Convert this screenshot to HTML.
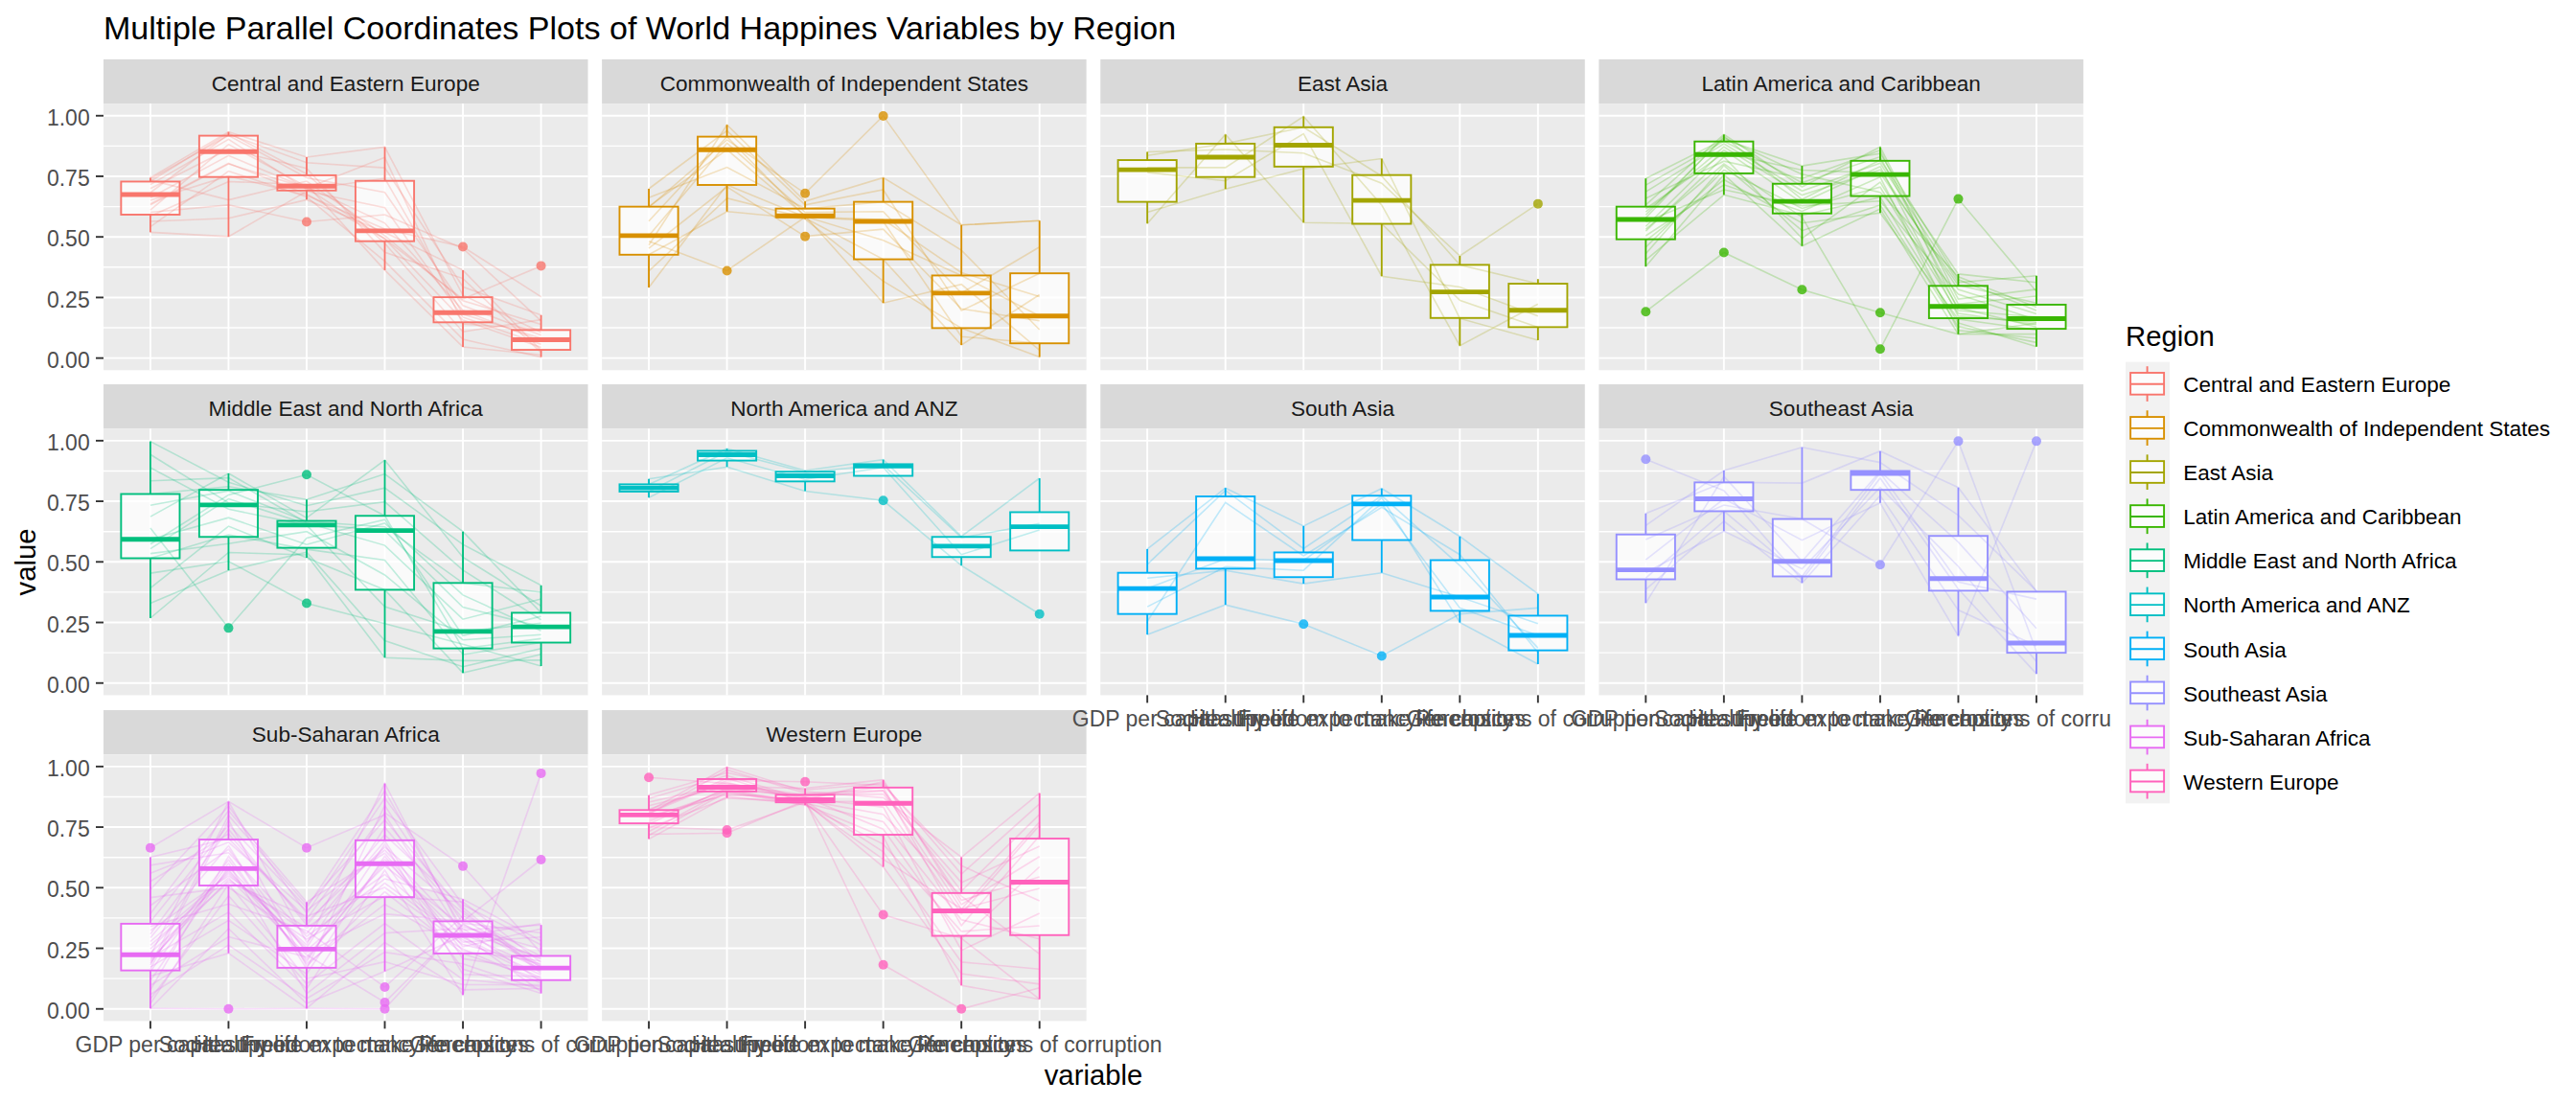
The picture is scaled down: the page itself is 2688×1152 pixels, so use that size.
<!DOCTYPE html><html><head><meta charset="utf-8"><style>html,body{margin:0;padding:0;background:#fff;width:2688px;height:1152px;overflow:hidden}</style></head><body><svg width="2688" height="1152" viewBox="0 0 2688 1152" style="display:block">
<rect x="0" y="0" width="2688" height="1152" fill="#FFFFFF"/>
<text x="108" y="41" font-family='"Liberation Sans", sans-serif' font-size="34.05" fill="#000000">Multiple Parallel Coordinates Plots of World Happines Variables by Region</text>
<defs><clipPath id="cpx"><rect x="0" y="0" width="2204" height="1152"/></clipPath></defs>
<rect x="108.00" y="61.90" width="505.5" height="46.2" fill="#D9D9D9"/>
<text x="360.75" y="95.10" text-anchor="middle" font-family='"Liberation Sans", sans-serif' font-size="22.6" fill="#1A1A1A">Central and Eastern Europe</text>
<rect x="108.00" y="108.10" width="505.5" height="278.2" fill="#EBEBEB"/>
<line x1="108.00" x2="613.50" y1="342.04" y2="342.04" stroke="#FFFFFF" stroke-width="1.4"/>
<line x1="108.00" x2="613.50" y1="278.81" y2="278.81" stroke="#FFFFFF" stroke-width="1.4"/>
<line x1="108.00" x2="613.50" y1="215.59" y2="215.59" stroke="#FFFFFF" stroke-width="1.4"/>
<line x1="108.00" x2="613.50" y1="152.36" y2="152.36" stroke="#FFFFFF" stroke-width="1.4"/>
<line x1="108.00" x2="613.50" y1="373.65" y2="373.65" stroke="#FFFFFF" stroke-width="1.9"/>
<line x1="108.00" x2="613.50" y1="310.43" y2="310.43" stroke="#FFFFFF" stroke-width="1.9"/>
<line x1="108.00" x2="613.50" y1="247.20" y2="247.20" stroke="#FFFFFF" stroke-width="1.9"/>
<line x1="108.00" x2="613.50" y1="183.97" y2="183.97" stroke="#FFFFFF" stroke-width="1.9"/>
<line x1="108.00" x2="613.50" y1="120.75" y2="120.75" stroke="#FFFFFF" stroke-width="1.9"/>
<line x1="156.92" x2="156.92" y1="108.10" y2="386.30" stroke="#FFFFFF" stroke-width="1.9"/>
<line x1="238.45" x2="238.45" y1="108.10" y2="386.30" stroke="#FFFFFF" stroke-width="1.9"/>
<line x1="319.98" x2="319.98" y1="108.10" y2="386.30" stroke="#FFFFFF" stroke-width="1.9"/>
<line x1="401.52" x2="401.52" y1="108.10" y2="386.30" stroke="#FFFFFF" stroke-width="1.9"/>
<line x1="483.05" x2="483.05" y1="108.10" y2="386.30" stroke="#FFFFFF" stroke-width="1.9"/>
<line x1="564.58" x2="564.58" y1="108.10" y2="386.30" stroke="#FFFFFF" stroke-width="1.9"/>
<rect x="126.34" y="189.46" width="61.15" height="34.51" fill="#FFFFFF" fill-opacity="0.75"/>
<rect x="207.88" y="141.60" width="61.15" height="43.08" fill="#FFFFFF" fill-opacity="0.75"/>
<rect x="289.41" y="182.91" width="61.15" height="15.87" fill="#FFFFFF" fill-opacity="0.75"/>
<rect x="370.94" y="188.71" width="61.15" height="62.98" fill="#FFFFFF" fill-opacity="0.75"/>
<rect x="452.47" y="310.12" width="61.15" height="26.20" fill="#FFFFFF" fill-opacity="0.75"/>
<rect x="534.01" y="344.38" width="61.15" height="20.66" fill="#FFFFFF" fill-opacity="0.75"/>
<polyline points="156.9,187.9 238.5,208.6 320.0,189.0 401.5,245.9 483.0,313.8 564.6,338.4" fill="none" stroke="#F8766D" stroke-opacity="0.24" stroke-width="1.6"/>
<polyline points="156.9,212.7 238.5,170.4 320.0,202.5 401.5,249.2 483.0,334.0 564.6,362.6" fill="none" stroke="#F8766D" stroke-opacity="0.24" stroke-width="1.6"/>
<polyline points="156.9,201.0 238.5,140.1 320.0,169.8 401.5,175.1 483.0,299.3 564.6,328.8" fill="none" stroke="#F8766D" stroke-opacity="0.24" stroke-width="1.6"/>
<polyline points="156.9,242.4 238.5,246.9 320.0,199.5 401.5,216.8 483.0,330.9 564.6,359.3" fill="none" stroke="#F8766D" stroke-opacity="0.24" stroke-width="1.6"/>
<polyline points="156.9,189.2 238.5,138.8 320.0,181.5 401.5,254.0 483.0,346.2 564.6,333.6" fill="none" stroke="#F8766D" stroke-opacity="0.24" stroke-width="1.6"/>
<polyline points="156.9,206.3 238.5,162.3 320.0,196.3 401.5,164.3 483.0,338.3 564.6,343.2" fill="none" stroke="#F8766D" stroke-opacity="0.24" stroke-width="1.6"/>
<polyline points="156.9,236.7 238.5,178.6 320.0,205.4 401.5,272.6 483.0,354.1 564.6,372.6" fill="none" stroke="#F8766D" stroke-opacity="0.24" stroke-width="1.6"/>
<polyline points="156.9,186.7 238.5,141.3 320.0,185.5 401.5,200.7 483.0,318.8 564.6,349.8" fill="none" stroke="#F8766D" stroke-opacity="0.24" stroke-width="1.6"/>
<polyline points="156.9,225.4 238.5,189.5 320.0,192.5 401.5,281.9 483.0,362.0 564.6,370.3" fill="none" stroke="#F8766D" stroke-opacity="0.24" stroke-width="1.6"/>
<polyline points="156.9,192.6 238.5,145.4 320.0,197.7 401.5,186.0 483.0,327.8 564.6,352.9" fill="none" stroke="#F8766D" stroke-opacity="0.24" stroke-width="1.6"/>
<polyline points="156.9,231.0 238.5,227.8 320.0,208.4 401.5,242.5 483.0,281.9 564.6,365.6" fill="none" stroke="#F8766D" stroke-opacity="0.24" stroke-width="1.6"/>
<polyline points="156.9,219.1 238.5,150.6 320.0,194.9 401.5,232.8 483.0,323.8 564.6,356.1" fill="none" stroke="#F8766D" stroke-opacity="0.24" stroke-width="1.6"/>
<polyline points="156.9,196.8 238.5,155.7 320.0,175.6 401.5,263.3 483.0,290.6 564.6,367.9" fill="none" stroke="#F8766D" stroke-opacity="0.24" stroke-width="1.6"/>
<polyline points="156.9,185.4 238.5,137.6 320.0,164.0 401.5,153.4 483.0,308.0 564.6,346.7" fill="none" stroke="#F8766D" stroke-opacity="0.24" stroke-width="1.6"/>
<polyline points="156.9,221.5 238.5,213.9 320.0,231.5 401.5,224.0 483.0,259.2 564.6,334.8" fill="none" stroke="#F8766D" stroke-opacity="0.24" stroke-width="1.6"/>
<polyline points="156.9,208.9 238.5,183.7 320.0,203.8 401.5,239.1 483.0,257.5 564.6,309.6" fill="none" stroke="#F8766D" stroke-opacity="0.24" stroke-width="1.6"/>
<polyline points="156.9,213.9 238.5,171.1 320.0,196.3 401.5,249.2 483.0,312.1 564.6,277.4" fill="none" stroke="#F8766D" stroke-opacity="0.24" stroke-width="1.6"/>
<line x1="156.92" x2="156.92" y1="185.43" y2="189.46" stroke="#F8766D" stroke-width="1.9"/>
<line x1="156.92" x2="156.92" y1="223.97" y2="242.36" stroke="#F8766D" stroke-width="1.9"/>
<rect x="126.34" y="189.46" width="61.15" height="34.51" fill="none" stroke="#F8766D" stroke-width="1.9"/>
<line x1="126.34" x2="187.49" y1="203.07" y2="203.07" stroke="#F8766D" stroke-width="4.9"/>
<line x1="238.45" x2="238.45" y1="137.57" y2="141.60" stroke="#F8766D" stroke-width="1.9"/>
<line x1="238.45" x2="238.45" y1="184.68" y2="246.90" stroke="#F8766D" stroke-width="1.9"/>
<rect x="207.88" y="141.60" width="61.15" height="43.08" fill="none" stroke="#F8766D" stroke-width="1.9"/>
<line x1="207.88" x2="269.03" y1="158.23" y2="158.23" stroke="#F8766D" stroke-width="4.9"/>
<line x1="319.98" x2="319.98" y1="164.02" y2="182.91" stroke="#F8766D" stroke-width="1.9"/>
<line x1="319.98" x2="319.98" y1="198.78" y2="208.36" stroke="#F8766D" stroke-width="1.9"/>
<rect x="289.41" y="182.91" width="61.15" height="15.87" fill="none" stroke="#F8766D" stroke-width="1.9"/>
<line x1="289.41" x2="350.56" y1="194.25" y2="194.25" stroke="#F8766D" stroke-width="4.9"/>
<circle cx="319.98" cy="231.53" r="5" fill="#F8766D" fill-opacity="0.8"/>
<line x1="401.52" x2="401.52" y1="153.44" y2="188.71" stroke="#F8766D" stroke-width="1.9"/>
<line x1="401.52" x2="401.52" y1="251.68" y2="281.91" stroke="#F8766D" stroke-width="1.9"/>
<rect x="370.94" y="188.71" width="61.15" height="62.98" fill="none" stroke="#F8766D" stroke-width="1.9"/>
<line x1="370.94" x2="432.09" y1="240.85" y2="240.85" stroke="#F8766D" stroke-width="4.9"/>
<line x1="483.05" x2="483.05" y1="281.91" y2="310.12" stroke="#F8766D" stroke-width="1.9"/>
<line x1="483.05" x2="483.05" y1="336.32" y2="362.02" stroke="#F8766D" stroke-width="1.9"/>
<rect x="452.47" y="310.12" width="61.15" height="26.20" fill="none" stroke="#F8766D" stroke-width="1.9"/>
<line x1="452.47" x2="513.62" y1="326.25" y2="326.25" stroke="#F8766D" stroke-width="4.9"/>
<circle cx="483.05" cy="257.48" r="5" fill="#F8766D" fill-opacity="0.8"/>
<line x1="564.58" x2="564.58" y1="328.77" y2="344.38" stroke="#F8766D" stroke-width="1.9"/>
<line x1="564.58" x2="564.58" y1="365.04" y2="372.60" stroke="#F8766D" stroke-width="1.9"/>
<rect x="534.01" y="344.38" width="61.15" height="20.66" fill="none" stroke="#F8766D" stroke-width="1.9"/>
<line x1="534.01" x2="595.16" y1="354.46" y2="354.46" stroke="#F8766D" stroke-width="4.9"/>
<circle cx="564.58" cy="277.38" r="5" fill="#F8766D" fill-opacity="0.8"/>
<line x1="100.00" x2="108.00" y1="373.65" y2="373.65" stroke="#333333" stroke-width="1.9"/>
<text x="93.70" y="383.75" text-anchor="end" font-family='"Liberation Sans", sans-serif' font-size="23" fill="#4D4D4D">0.00</text>
<line x1="100.00" x2="108.00" y1="310.43" y2="310.43" stroke="#333333" stroke-width="1.9"/>
<text x="93.70" y="320.53" text-anchor="end" font-family='"Liberation Sans", sans-serif' font-size="23" fill="#4D4D4D">0.25</text>
<line x1="100.00" x2="108.00" y1="247.20" y2="247.20" stroke="#333333" stroke-width="1.9"/>
<text x="93.70" y="257.30" text-anchor="end" font-family='"Liberation Sans", sans-serif' font-size="23" fill="#4D4D4D">0.50</text>
<line x1="100.00" x2="108.00" y1="183.97" y2="183.97" stroke="#333333" stroke-width="1.9"/>
<text x="93.70" y="194.07" text-anchor="end" font-family='"Liberation Sans", sans-serif' font-size="23" fill="#4D4D4D">0.75</text>
<line x1="100.00" x2="108.00" y1="120.75" y2="120.75" stroke="#333333" stroke-width="1.9"/>
<text x="93.70" y="130.85" text-anchor="end" font-family='"Liberation Sans", sans-serif' font-size="23" fill="#4D4D4D">1.00</text>
<rect x="628.13" y="61.90" width="505.5" height="46.2" fill="#D9D9D9"/>
<text x="880.88" y="95.10" text-anchor="middle" font-family='"Liberation Sans", sans-serif' font-size="22.6" fill="#1A1A1A">Commonwealth of Independent States</text>
<rect x="628.13" y="108.10" width="505.5" height="278.2" fill="#EBEBEB"/>
<line x1="628.13" x2="1133.63" y1="342.04" y2="342.04" stroke="#FFFFFF" stroke-width="1.4"/>
<line x1="628.13" x2="1133.63" y1="278.81" y2="278.81" stroke="#FFFFFF" stroke-width="1.4"/>
<line x1="628.13" x2="1133.63" y1="215.59" y2="215.59" stroke="#FFFFFF" stroke-width="1.4"/>
<line x1="628.13" x2="1133.63" y1="152.36" y2="152.36" stroke="#FFFFFF" stroke-width="1.4"/>
<line x1="628.13" x2="1133.63" y1="373.65" y2="373.65" stroke="#FFFFFF" stroke-width="1.9"/>
<line x1="628.13" x2="1133.63" y1="310.43" y2="310.43" stroke="#FFFFFF" stroke-width="1.9"/>
<line x1="628.13" x2="1133.63" y1="247.20" y2="247.20" stroke="#FFFFFF" stroke-width="1.9"/>
<line x1="628.13" x2="1133.63" y1="183.97" y2="183.97" stroke="#FFFFFF" stroke-width="1.9"/>
<line x1="628.13" x2="1133.63" y1="120.75" y2="120.75" stroke="#FFFFFF" stroke-width="1.9"/>
<line x1="677.05" x2="677.05" y1="108.10" y2="386.30" stroke="#FFFFFF" stroke-width="1.9"/>
<line x1="758.58" x2="758.58" y1="108.10" y2="386.30" stroke="#FFFFFF" stroke-width="1.9"/>
<line x1="840.11" x2="840.11" y1="108.10" y2="386.30" stroke="#FFFFFF" stroke-width="1.9"/>
<line x1="921.65" x2="921.65" y1="108.10" y2="386.30" stroke="#FFFFFF" stroke-width="1.9"/>
<line x1="1003.18" x2="1003.18" y1="108.10" y2="386.30" stroke="#FFFFFF" stroke-width="1.9"/>
<line x1="1084.71" x2="1084.71" y1="108.10" y2="386.30" stroke="#FFFFFF" stroke-width="1.9"/>
<rect x="646.47" y="215.66" width="61.15" height="50.13" fill="#FFFFFF" fill-opacity="0.75"/>
<rect x="728.01" y="142.61" width="61.15" height="50.38" fill="#FFFFFF" fill-opacity="0.75"/>
<rect x="809.54" y="217.68" width="61.15" height="8.82" fill="#FFFFFF" fill-opacity="0.75"/>
<rect x="891.07" y="210.62" width="61.15" height="59.95" fill="#FFFFFF" fill-opacity="0.75"/>
<rect x="972.60" y="287.45" width="61.15" height="54.91" fill="#FFFFFF" fill-opacity="0.75"/>
<rect x="1054.14" y="285.19" width="61.15" height="73.05" fill="#FFFFFF" fill-opacity="0.75"/>
<polyline points="677.0,197.0 758.6,136.4 840.1,213.9 921.6,198.0 1003.2,324.1 1084.7,285.2" fill="none" stroke="#D89000" stroke-opacity="0.24" stroke-width="1.6"/>
<polyline points="677.0,245.9 758.6,149.4 840.1,221.5 921.6,220.8 1003.2,305.8 1084.7,257.7" fill="none" stroke="#D89000" stroke-opacity="0.24" stroke-width="1.6"/>
<polyline points="677.0,282.9 758.6,206.8 840.1,227.5 921.6,270.6 1003.2,360.0 1084.7,307.5" fill="none" stroke="#D89000" stroke-opacity="0.24" stroke-width="1.6"/>
<polyline points="677.0,206.3 758.6,174.6 840.1,217.7 921.6,210.6 1003.2,261.1 1084.7,344.0" fill="none" stroke="#D89000" stroke-opacity="0.24" stroke-width="1.6"/>
<polyline points="677.0,215.7 758.6,156.2 840.1,225.2 921.6,316.2 1003.2,296.6 1084.7,365.4" fill="none" stroke="#D89000" stroke-opacity="0.24" stroke-width="1.6"/>
<polyline points="677.0,265.8 758.6,220.7 840.1,228.5 921.6,293.4 1003.2,342.4 1084.7,372.6" fill="none" stroke="#D89000" stroke-opacity="0.24" stroke-width="1.6"/>
<polyline points="677.0,255.8 758.6,130.3 840.1,210.1 921.6,185.4 1003.2,234.8 1084.7,230.3" fill="none" stroke="#D89000" stroke-opacity="0.24" stroke-width="1.6"/>
<polyline points="677.0,300.0 758.6,193.0 840.1,226.5 921.6,231.0 1003.2,351.2 1084.7,358.2" fill="none" stroke="#D89000" stroke-opacity="0.24" stroke-width="1.6"/>
<polyline points="677.0,230.8 758.6,142.6 840.1,225.9 921.6,250.8 1003.2,287.5 1084.7,329.8" fill="none" stroke="#D89000" stroke-opacity="0.24" stroke-width="1.6"/>
<polyline points="677.0,251.7 758.6,282.4 840.1,226.5 921.6,229.0 1003.2,284.4 1084.7,309.6" fill="none" stroke="#D89000" stroke-opacity="0.24" stroke-width="1.6"/>
<polyline points="677.0,216.4 758.6,145.9 840.1,201.8 921.6,120.9 1003.2,234.8 1084.7,230.3" fill="none" stroke="#D89000" stroke-opacity="0.24" stroke-width="1.6"/>
<polyline points="677.0,259.2 758.6,195.0 840.1,246.6 921.6,239.1 1003.2,322.2 1084.7,334.8" fill="none" stroke="#D89000" stroke-opacity="0.24" stroke-width="1.6"/>
<line x1="677.05" x2="677.05" y1="197.02" y2="215.66" stroke="#D89000" stroke-width="1.9"/>
<line x1="677.05" x2="677.05" y1="265.79" y2="300.05" stroke="#D89000" stroke-width="1.9"/>
<rect x="646.47" y="215.66" width="61.15" height="50.13" fill="none" stroke="#D89000" stroke-width="1.9"/>
<line x1="646.47" x2="707.62" y1="245.89" y2="245.89" stroke="#D89000" stroke-width="4.9"/>
<line x1="758.58" x2="758.58" y1="130.27" y2="142.61" stroke="#D89000" stroke-width="1.9"/>
<line x1="758.58" x2="758.58" y1="192.99" y2="220.70" stroke="#D89000" stroke-width="1.9"/>
<rect x="728.01" y="142.61" width="61.15" height="50.38" fill="none" stroke="#D89000" stroke-width="1.9"/>
<line x1="728.01" x2="789.16" y1="156.21" y2="156.21" stroke="#D89000" stroke-width="4.9"/>
<circle cx="758.58" cy="282.42" r="5" fill="#D89000" fill-opacity="0.8"/>
<line x1="840.11" x2="840.11" y1="210.12" y2="217.68" stroke="#D89000" stroke-width="1.9"/>
<line x1="840.11" x2="840.11" y1="226.49" y2="228.51" stroke="#D89000" stroke-width="1.9"/>
<rect x="809.54" y="217.68" width="61.15" height="8.82" fill="none" stroke="#D89000" stroke-width="1.9"/>
<line x1="809.54" x2="870.69" y1="225.23" y2="225.23" stroke="#D89000" stroke-width="4.9"/>
<circle cx="840.11" cy="201.81" r="5" fill="#D89000" fill-opacity="0.8"/>
<circle cx="840.11" cy="246.65" r="5" fill="#D89000" fill-opacity="0.8"/>
<line x1="921.65" x2="921.65" y1="185.43" y2="210.62" stroke="#D89000" stroke-width="1.9"/>
<line x1="921.65" x2="921.65" y1="270.58" y2="316.17" stroke="#D89000" stroke-width="1.9"/>
<rect x="891.07" y="210.62" width="61.15" height="59.95" fill="none" stroke="#D89000" stroke-width="1.9"/>
<line x1="891.07" x2="952.22" y1="231.03" y2="231.03" stroke="#D89000" stroke-width="4.9"/>
<circle cx="921.65" cy="120.95" r="5" fill="#D89000" fill-opacity="0.8"/>
<line x1="1003.18" x2="1003.18" y1="234.81" y2="287.45" stroke="#D89000" stroke-width="1.9"/>
<line x1="1003.18" x2="1003.18" y1="342.37" y2="360.00" stroke="#D89000" stroke-width="1.9"/>
<rect x="972.60" y="287.45" width="61.15" height="54.91" fill="none" stroke="#D89000" stroke-width="1.9"/>
<line x1="972.60" x2="1033.75" y1="305.84" y2="305.84" stroke="#D89000" stroke-width="4.9"/>
<line x1="1084.71" x2="1084.71" y1="230.27" y2="285.19" stroke="#D89000" stroke-width="1.9"/>
<line x1="1084.71" x2="1084.71" y1="358.24" y2="372.60" stroke="#D89000" stroke-width="1.9"/>
<rect x="1054.14" y="285.19" width="61.15" height="73.05" fill="none" stroke="#D89000" stroke-width="1.9"/>
<line x1="1054.14" x2="1115.29" y1="329.77" y2="329.77" stroke="#D89000" stroke-width="4.9"/>
<rect x="1148.26" y="61.90" width="505.5" height="46.2" fill="#D9D9D9"/>
<text x="1401.01" y="95.10" text-anchor="middle" font-family='"Liberation Sans", sans-serif' font-size="22.6" fill="#1A1A1A">East Asia</text>
<rect x="1148.26" y="108.10" width="505.5" height="278.2" fill="#EBEBEB"/>
<line x1="1148.26" x2="1653.76" y1="342.04" y2="342.04" stroke="#FFFFFF" stroke-width="1.4"/>
<line x1="1148.26" x2="1653.76" y1="278.81" y2="278.81" stroke="#FFFFFF" stroke-width="1.4"/>
<line x1="1148.26" x2="1653.76" y1="215.59" y2="215.59" stroke="#FFFFFF" stroke-width="1.4"/>
<line x1="1148.26" x2="1653.76" y1="152.36" y2="152.36" stroke="#FFFFFF" stroke-width="1.4"/>
<line x1="1148.26" x2="1653.76" y1="373.65" y2="373.65" stroke="#FFFFFF" stroke-width="1.9"/>
<line x1="1148.26" x2="1653.76" y1="310.43" y2="310.43" stroke="#FFFFFF" stroke-width="1.9"/>
<line x1="1148.26" x2="1653.76" y1="247.20" y2="247.20" stroke="#FFFFFF" stroke-width="1.9"/>
<line x1="1148.26" x2="1653.76" y1="183.97" y2="183.97" stroke="#FFFFFF" stroke-width="1.9"/>
<line x1="1148.26" x2="1653.76" y1="120.75" y2="120.75" stroke="#FFFFFF" stroke-width="1.9"/>
<line x1="1197.18" x2="1197.18" y1="108.10" y2="386.30" stroke="#FFFFFF" stroke-width="1.9"/>
<line x1="1278.71" x2="1278.71" y1="108.10" y2="386.30" stroke="#FFFFFF" stroke-width="1.9"/>
<line x1="1360.24" x2="1360.24" y1="108.10" y2="386.30" stroke="#FFFFFF" stroke-width="1.9"/>
<line x1="1441.78" x2="1441.78" y1="108.10" y2="386.30" stroke="#FFFFFF" stroke-width="1.9"/>
<line x1="1523.31" x2="1523.31" y1="108.10" y2="386.30" stroke="#FFFFFF" stroke-width="1.9"/>
<line x1="1604.84" x2="1604.84" y1="108.10" y2="386.30" stroke="#FFFFFF" stroke-width="1.9"/>
<rect x="1166.60" y="167.04" width="61.15" height="43.58" fill="#FFFFFF" fill-opacity="0.75"/>
<rect x="1248.14" y="149.92" width="61.15" height="34.76" fill="#FFFFFF" fill-opacity="0.75"/>
<rect x="1329.67" y="132.79" width="61.15" height="41.06" fill="#FFFFFF" fill-opacity="0.75"/>
<rect x="1411.20" y="182.66" width="61.15" height="50.88" fill="#FFFFFF" fill-opacity="0.75"/>
<rect x="1492.73" y="276.37" width="61.15" height="55.42" fill="#FFFFFF" fill-opacity="0.75"/>
<rect x="1574.27" y="296.02" width="61.15" height="45.34" fill="#FFFFFF" fill-opacity="0.75"/>
<polyline points="1197.2,162.3 1278.7,149.9 1360.2,132.8 1441.8,183.7 1523.3,276.4 1604.8,296.0" fill="none" stroke="#A3A500" stroke-opacity="0.24" stroke-width="1.6"/>
<polyline points="1197.2,174.9 1278.7,174.9 1360.2,121.5 1441.8,213.9 1523.3,360.8 1604.8,317.2" fill="none" stroke="#A3A500" stroke-opacity="0.24" stroke-width="1.6"/>
<polyline points="1197.2,179.9 1278.7,188.7 1360.2,139.6 1441.8,288.2 1523.3,299.5 1604.8,329.8" fill="none" stroke="#A3A500" stroke-opacity="0.24" stroke-width="1.6"/>
<polyline points="1197.2,158.5 1278.7,156.0 1360.2,159.7 1441.8,191.2 1523.3,267.0 1604.8,212.6" fill="none" stroke="#A3A500" stroke-opacity="0.24" stroke-width="1.6"/>
<polyline points="1197.2,233.3 1278.7,140.3 1360.2,232.3 1441.8,233.5 1523.3,313.4 1604.8,341.4" fill="none" stroke="#A3A500" stroke-opacity="0.24" stroke-width="1.6"/>
<polyline points="1197.2,221.5 1278.7,197.3 1360.2,176.1 1441.8,165.5 1523.3,332.3 1604.8,355.0" fill="none" stroke="#A3A500" stroke-opacity="0.24" stroke-width="1.6"/>
<line x1="1197.18" x2="1197.18" y1="158.48" y2="167.04" stroke="#A3A500" stroke-width="1.9"/>
<line x1="1197.18" x2="1197.18" y1="210.62" y2="233.30" stroke="#A3A500" stroke-width="1.9"/>
<rect x="1166.60" y="167.04" width="61.15" height="43.58" fill="none" stroke="#A3A500" stroke-width="1.9"/>
<line x1="1166.60" x2="1227.75" y1="177.12" y2="177.12" stroke="#A3A500" stroke-width="4.9"/>
<line x1="1278.71" x2="1278.71" y1="140.34" y2="149.92" stroke="#A3A500" stroke-width="1.9"/>
<line x1="1278.71" x2="1278.71" y1="184.68" y2="197.27" stroke="#A3A500" stroke-width="1.9"/>
<rect x="1248.14" y="149.92" width="61.15" height="34.76" fill="none" stroke="#A3A500" stroke-width="1.9"/>
<line x1="1248.14" x2="1309.29" y1="164.02" y2="164.02" stroke="#A3A500" stroke-width="4.9"/>
<line x1="1360.24" x2="1360.24" y1="121.45" y2="132.79" stroke="#A3A500" stroke-width="1.9"/>
<line x1="1360.24" x2="1360.24" y1="173.85" y2="232.29" stroke="#A3A500" stroke-width="1.9"/>
<rect x="1329.67" y="132.79" width="61.15" height="41.06" fill="none" stroke="#A3A500" stroke-width="1.9"/>
<line x1="1329.67" x2="1390.82" y1="151.43" y2="151.43" stroke="#A3A500" stroke-width="4.9"/>
<line x1="1441.78" x2="1441.78" y1="165.53" y2="182.66" stroke="#A3A500" stroke-width="1.9"/>
<line x1="1441.78" x2="1441.78" y1="233.55" y2="288.21" stroke="#A3A500" stroke-width="1.9"/>
<rect x="1411.20" y="182.66" width="61.15" height="50.88" fill="none" stroke="#A3A500" stroke-width="1.9"/>
<line x1="1411.20" x2="1472.35" y1="209.11" y2="209.11" stroke="#A3A500" stroke-width="4.9"/>
<line x1="1523.31" x2="1523.31" y1="267.05" y2="276.37" stroke="#A3A500" stroke-width="1.9"/>
<line x1="1523.31" x2="1523.31" y1="331.79" y2="360.76" stroke="#A3A500" stroke-width="1.9"/>
<rect x="1492.73" y="276.37" width="61.15" height="55.42" fill="none" stroke="#A3A500" stroke-width="1.9"/>
<line x1="1492.73" x2="1553.88" y1="304.58" y2="304.58" stroke="#A3A500" stroke-width="4.9"/>
<line x1="1604.84" x2="1604.84" y1="291.23" y2="296.02" stroke="#A3A500" stroke-width="1.9"/>
<line x1="1604.84" x2="1604.84" y1="341.36" y2="354.96" stroke="#A3A500" stroke-width="1.9"/>
<rect x="1574.27" y="296.02" width="61.15" height="45.34" fill="none" stroke="#A3A500" stroke-width="1.9"/>
<line x1="1574.27" x2="1635.42" y1="323.73" y2="323.73" stroke="#A3A500" stroke-width="4.9"/>
<circle cx="1604.84" cy="212.64" r="5" fill="#A3A500" fill-opacity="0.8"/>
<rect x="1668.40" y="61.90" width="505.5" height="46.2" fill="#D9D9D9"/>
<text x="1921.15" y="95.10" text-anchor="middle" font-family='"Liberation Sans", sans-serif' font-size="22.6" fill="#1A1A1A">Latin America and Caribbean</text>
<rect x="1668.40" y="108.10" width="505.5" height="278.2" fill="#EBEBEB"/>
<line x1="1668.40" x2="2173.90" y1="342.04" y2="342.04" stroke="#FFFFFF" stroke-width="1.4"/>
<line x1="1668.40" x2="2173.90" y1="278.81" y2="278.81" stroke="#FFFFFF" stroke-width="1.4"/>
<line x1="1668.40" x2="2173.90" y1="215.59" y2="215.59" stroke="#FFFFFF" stroke-width="1.4"/>
<line x1="1668.40" x2="2173.90" y1="152.36" y2="152.36" stroke="#FFFFFF" stroke-width="1.4"/>
<line x1="1668.40" x2="2173.90" y1="373.65" y2="373.65" stroke="#FFFFFF" stroke-width="1.9"/>
<line x1="1668.40" x2="2173.90" y1="310.43" y2="310.43" stroke="#FFFFFF" stroke-width="1.9"/>
<line x1="1668.40" x2="2173.90" y1="247.20" y2="247.20" stroke="#FFFFFF" stroke-width="1.9"/>
<line x1="1668.40" x2="2173.90" y1="183.97" y2="183.97" stroke="#FFFFFF" stroke-width="1.9"/>
<line x1="1668.40" x2="2173.90" y1="120.75" y2="120.75" stroke="#FFFFFF" stroke-width="1.9"/>
<line x1="1717.32" x2="1717.32" y1="108.10" y2="386.30" stroke="#FFFFFF" stroke-width="1.9"/>
<line x1="1798.85" x2="1798.85" y1="108.10" y2="386.30" stroke="#FFFFFF" stroke-width="1.9"/>
<line x1="1880.38" x2="1880.38" y1="108.10" y2="386.30" stroke="#FFFFFF" stroke-width="1.9"/>
<line x1="1961.92" x2="1961.92" y1="108.10" y2="386.30" stroke="#FFFFFF" stroke-width="1.9"/>
<line x1="2043.45" x2="2043.45" y1="108.10" y2="386.30" stroke="#FFFFFF" stroke-width="1.9"/>
<line x1="2124.98" x2="2124.98" y1="108.10" y2="386.30" stroke="#FFFFFF" stroke-width="1.9"/>
<rect x="1686.74" y="215.66" width="61.15" height="34.01" fill="#FFFFFF" fill-opacity="0.75"/>
<rect x="1768.28" y="147.65" width="61.15" height="33.25" fill="#FFFFFF" fill-opacity="0.75"/>
<rect x="1849.81" y="191.73" width="61.15" height="30.98" fill="#FFFFFF" fill-opacity="0.75"/>
<rect x="1931.34" y="167.80" width="61.15" height="36.78" fill="#FFFFFF" fill-opacity="0.75"/>
<rect x="2012.87" y="298.29" width="61.15" height="33.75" fill="#FFFFFF" fill-opacity="0.75"/>
<rect x="2094.41" y="317.93" width="61.15" height="25.19" fill="#FFFFFF" fill-opacity="0.75"/>
<polyline points="1717.3,258.0 1798.9,177.4 1880.4,217.5 1961.9,195.3 2043.4,327.0 2125.0,338.8" fill="none" stroke="#39B600" stroke-opacity="0.24" stroke-width="1.6"/>
<polyline points="1717.3,236.3 1798.9,156.5 1880.4,211.6 1961.9,173.7 2043.4,329.9 2125.0,336.3" fill="none" stroke="#39B600" stroke-opacity="0.24" stroke-width="1.6"/>
<polyline points="1717.3,264.7 1798.9,172.8 1880.4,240.7 1961.9,213.9 2043.4,340.8 2125.0,357.4" fill="none" stroke="#39B600" stroke-opacity="0.24" stroke-width="1.6"/>
<polyline points="1717.3,213.9 1798.9,140.3 1880.4,195.0 1961.9,153.4 2043.4,312.1 2125.0,301.9" fill="none" stroke="#39B600" stroke-opacity="0.24" stroke-width="1.6"/>
<polyline points="1717.3,278.1 1798.9,182.2 1880.4,256.7 1961.9,218.1 2043.4,348.7 2125.0,348.6" fill="none" stroke="#39B600" stroke-opacity="0.24" stroke-width="1.6"/>
<polyline points="1717.3,193.1 1798.9,147.2 1880.4,190.6 1961.9,163.6 2043.4,317.2 2125.0,309.0" fill="none" stroke="#39B600" stroke-opacity="0.24" stroke-width="1.6"/>
<polyline points="1717.3,241.2 1798.9,163.6 1880.4,248.7 1961.9,190.1 2043.4,321.1 2125.0,341.3" fill="none" stroke="#39B600" stroke-opacity="0.24" stroke-width="1.6"/>
<polyline points="1717.3,200.1 1798.9,150.0 1880.4,199.3 1961.9,170.3 2043.4,294.7 2125.0,287.7" fill="none" stroke="#39B600" stroke-opacity="0.24" stroke-width="1.6"/>
<polyline points="1717.3,271.4 1798.9,203.3 1880.4,224.7 1961.9,205.6 2043.4,336.9 2125.0,361.8" fill="none" stroke="#39B600" stroke-opacity="0.24" stroke-width="1.6"/>
<polyline points="1717.3,246.0 1798.9,192.8 1880.4,220.5 1961.9,184.8 2043.4,344.8 2125.0,353.0" fill="none" stroke="#39B600" stroke-opacity="0.24" stroke-width="1.6"/>
<polyline points="1717.3,207.0 1798.9,168.2 1880.4,186.2 1961.9,156.8 2043.4,324.1 2125.0,330.8" fill="none" stroke="#39B600" stroke-opacity="0.24" stroke-width="1.6"/>
<polyline points="1717.3,251.3 1798.9,187.5 1880.4,232.7 1961.9,222.2 2043.4,333.0 2125.0,344.2" fill="none" stroke="#39B600" stroke-opacity="0.24" stroke-width="1.6"/>
<polyline points="1717.3,227.4 1798.9,142.1 1880.4,208.0 1961.9,167.0 2043.4,285.9 2125.0,294.8" fill="none" stroke="#39B600" stroke-opacity="0.24" stroke-width="1.6"/>
<polyline points="1717.3,224.3 1798.9,143.8 1880.4,181.9 1961.9,200.6 2043.4,288.8 2125.0,320.5" fill="none" stroke="#39B600" stroke-opacity="0.24" stroke-width="1.6"/>
<polyline points="1717.3,218.0 1798.9,159.7 1880.4,177.5 1961.9,180.5 2043.4,297.6 2125.0,316.2" fill="none" stroke="#39B600" stroke-opacity="0.24" stroke-width="1.6"/>
<polyline points="1717.3,221.2 1798.9,153.2 1880.4,203.6 1961.9,177.1 2043.4,302.1 2125.0,327.4" fill="none" stroke="#39B600" stroke-opacity="0.24" stroke-width="1.6"/>
<polyline points="1717.3,186.2 1798.9,145.5 1880.4,173.1 1961.9,160.2 2043.4,291.8 2125.0,323.9" fill="none" stroke="#39B600" stroke-opacity="0.24" stroke-width="1.6"/>
<polyline points="1717.3,231.4 1798.9,198.0 1880.4,214.6 1961.9,209.8 2043.4,307.1 2125.0,333.8" fill="none" stroke="#39B600" stroke-opacity="0.24" stroke-width="1.6"/>
<polyline points="1717.3,325.2 1798.9,263.5 1880.4,302.3 1961.9,326.2 2043.4,348.7 2125.0,337.3" fill="none" stroke="#39B600" stroke-opacity="0.24" stroke-width="1.6"/>
<polyline points="1717.3,239.1 1798.9,171.1 1880.4,226.7 1961.9,364.3 2043.4,207.6 2125.0,304.3" fill="none" stroke="#39B600" stroke-opacity="0.24" stroke-width="1.6"/>
<line x1="1717.32" x2="1717.32" y1="186.19" y2="215.66" stroke="#39B600" stroke-width="1.9"/>
<line x1="1717.32" x2="1717.32" y1="249.67" y2="278.13" stroke="#39B600" stroke-width="1.9"/>
<rect x="1686.74" y="215.66" width="61.15" height="34.01" fill="none" stroke="#39B600" stroke-width="1.9"/>
<line x1="1686.74" x2="1747.89" y1="229.01" y2="229.01" stroke="#39B600" stroke-width="4.9"/>
<circle cx="1717.32" cy="325.24" r="5" fill="#39B600" fill-opacity="0.8"/>
<line x1="1798.85" x2="1798.85" y1="140.34" y2="147.65" stroke="#39B600" stroke-width="1.9"/>
<line x1="1798.85" x2="1798.85" y1="180.90" y2="203.32" stroke="#39B600" stroke-width="1.9"/>
<rect x="1768.28" y="147.65" width="61.15" height="33.25" fill="none" stroke="#39B600" stroke-width="1.9"/>
<line x1="1768.28" x2="1829.43" y1="161.25" y2="161.25" stroke="#39B600" stroke-width="4.9"/>
<circle cx="1798.85" cy="263.52" r="5" fill="#39B600" fill-opacity="0.8"/>
<line x1="1880.38" x2="1880.38" y1="173.09" y2="191.73" stroke="#39B600" stroke-width="1.9"/>
<line x1="1880.38" x2="1880.38" y1="222.72" y2="256.72" stroke="#39B600" stroke-width="1.9"/>
<rect x="1849.81" y="191.73" width="61.15" height="30.98" fill="none" stroke="#39B600" stroke-width="1.9"/>
<line x1="1849.81" x2="1910.96" y1="210.12" y2="210.12" stroke="#39B600" stroke-width="4.9"/>
<circle cx="1880.38" cy="302.32" r="5" fill="#39B600" fill-opacity="0.8"/>
<line x1="1961.92" x2="1961.92" y1="153.44" y2="167.80" stroke="#39B600" stroke-width="1.9"/>
<line x1="1961.92" x2="1961.92" y1="204.58" y2="222.21" stroke="#39B600" stroke-width="1.9"/>
<rect x="1931.34" y="167.80" width="61.15" height="36.78" fill="none" stroke="#39B600" stroke-width="1.9"/>
<line x1="1931.34" x2="1992.49" y1="182.16" y2="182.16" stroke="#39B600" stroke-width="4.9"/>
<circle cx="1961.92" cy="326.25" r="5" fill="#39B600" fill-opacity="0.8"/>
<circle cx="1961.92" cy="364.28" r="5" fill="#39B600" fill-opacity="0.8"/>
<line x1="2043.45" x2="2043.45" y1="285.94" y2="298.29" stroke="#39B600" stroke-width="1.9"/>
<line x1="2043.45" x2="2043.45" y1="332.04" y2="348.67" stroke="#39B600" stroke-width="1.9"/>
<rect x="2012.87" y="298.29" width="61.15" height="33.75" fill="none" stroke="#39B600" stroke-width="1.9"/>
<line x1="2012.87" x2="2074.02" y1="319.70" y2="319.70" stroke="#39B600" stroke-width="4.9"/>
<circle cx="2043.45" cy="207.60" r="5" fill="#39B600" fill-opacity="0.8"/>
<line x1="2124.98" x2="2124.98" y1="287.71" y2="317.93" stroke="#39B600" stroke-width="1.9"/>
<line x1="2124.98" x2="2124.98" y1="343.12" y2="361.76" stroke="#39B600" stroke-width="1.9"/>
<rect x="2094.41" y="317.93" width="61.15" height="25.19" fill="none" stroke="#39B600" stroke-width="1.9"/>
<line x1="2094.41" x2="2155.56" y1="332.54" y2="332.54" stroke="#39B600" stroke-width="4.9"/>
<rect x="108.00" y="401.00" width="505.5" height="46.2" fill="#D9D9D9"/>
<text x="360.75" y="434.20" text-anchor="middle" font-family='"Liberation Sans", sans-serif' font-size="22.6" fill="#1A1A1A">Middle East and North Africa</text>
<rect x="108.00" y="447.20" width="505.5" height="278.2" fill="#EBEBEB"/>
<line x1="108.00" x2="613.50" y1="681.14" y2="681.14" stroke="#FFFFFF" stroke-width="1.4"/>
<line x1="108.00" x2="613.50" y1="617.91" y2="617.91" stroke="#FFFFFF" stroke-width="1.4"/>
<line x1="108.00" x2="613.50" y1="554.69" y2="554.69" stroke="#FFFFFF" stroke-width="1.4"/>
<line x1="108.00" x2="613.50" y1="491.46" y2="491.46" stroke="#FFFFFF" stroke-width="1.4"/>
<line x1="108.00" x2="613.50" y1="712.75" y2="712.75" stroke="#FFFFFF" stroke-width="1.9"/>
<line x1="108.00" x2="613.50" y1="649.53" y2="649.53" stroke="#FFFFFF" stroke-width="1.9"/>
<line x1="108.00" x2="613.50" y1="586.30" y2="586.30" stroke="#FFFFFF" stroke-width="1.9"/>
<line x1="108.00" x2="613.50" y1="523.07" y2="523.07" stroke="#FFFFFF" stroke-width="1.9"/>
<line x1="108.00" x2="613.50" y1="459.85" y2="459.85" stroke="#FFFFFF" stroke-width="1.9"/>
<line x1="156.92" x2="156.92" y1="447.20" y2="725.40" stroke="#FFFFFF" stroke-width="1.9"/>
<line x1="238.45" x2="238.45" y1="447.20" y2="725.40" stroke="#FFFFFF" stroke-width="1.9"/>
<line x1="319.98" x2="319.98" y1="447.20" y2="725.40" stroke="#FFFFFF" stroke-width="1.9"/>
<line x1="401.52" x2="401.52" y1="447.20" y2="725.40" stroke="#FFFFFF" stroke-width="1.9"/>
<line x1="483.05" x2="483.05" y1="447.20" y2="725.40" stroke="#FFFFFF" stroke-width="1.9"/>
<line x1="564.58" x2="564.58" y1="447.20" y2="725.40" stroke="#FFFFFF" stroke-width="1.9"/>
<rect x="126.34" y="515.49" width="61.15" height="67.02" fill="#FFFFFF" fill-opacity="0.75"/>
<rect x="207.88" y="511.19" width="61.15" height="49.06" fill="#FFFFFF" fill-opacity="0.75"/>
<rect x="289.41" y="543.56" width="61.15" height="28.07" fill="#FFFFFF" fill-opacity="0.75"/>
<rect x="370.94" y="538.25" width="61.15" height="77.14" fill="#FFFFFF" fill-opacity="0.75"/>
<rect x="452.47" y="608.30" width="61.15" height="68.29" fill="#FFFFFF" fill-opacity="0.75"/>
<rect x="534.01" y="639.41" width="61.15" height="31.11" fill="#FFFFFF" fill-opacity="0.75"/>
<polyline points="156.9,460.6 238.5,503.2 320.0,527.7 401.5,509.2 483.0,568.1 564.6,610.8" fill="none" stroke="#00BF7D" stroke-opacity="0.24" stroke-width="1.6"/>
<polyline points="156.9,474.3 238.5,524.8 320.0,534.0 401.5,523.7 483.0,594.9 564.6,646.7" fill="none" stroke="#00BF7D" stroke-opacity="0.24" stroke-width="1.6"/>
<polyline points="156.9,598.1 238.5,585.8 320.0,629.5 401.5,650.8 483.0,672.2 564.6,695.1" fill="none" stroke="#00BF7D" stroke-opacity="0.24" stroke-width="1.6"/>
<polyline points="156.9,539.1 238.5,494.0 320.0,540.4 401.5,480.1 483.0,581.5 564.6,632.3" fill="none" stroke="#00BF7D" stroke-opacity="0.24" stroke-width="1.6"/>
<polyline points="156.9,551.0 238.5,655.3 320.0,561.4 401.5,542.1 483.0,663.3 564.6,643.1" fill="none" stroke="#00BF7D" stroke-opacity="0.24" stroke-width="1.6"/>
<polyline points="156.9,577.6 238.5,567.2 320.0,554.7 401.5,600.0 483.0,667.7 564.6,662.3" fill="none" stroke="#00BF7D" stroke-opacity="0.24" stroke-width="1.6"/>
<polyline points="156.9,645.0 238.5,576.5 320.0,579.0 401.5,686.2 483.0,689.4 564.6,688.9" fill="none" stroke="#00BF7D" stroke-opacity="0.24" stroke-width="1.6"/>
<polyline points="156.9,488.0 238.5,531.3 320.0,547.9 401.5,633.1 483.0,658.9 564.6,650.4" fill="none" stroke="#00BF7D" stroke-opacity="0.24" stroke-width="1.6"/>
<polyline points="156.9,572.6 238.5,520.6 320.0,546.6 401.5,553.7 483.0,633.6 564.6,654.1" fill="none" stroke="#00BF7D" stroke-opacity="0.24" stroke-width="1.6"/>
<polyline points="156.9,582.5 238.5,558.0 320.0,573.1 401.5,584.5 483.0,683.0 564.6,670.5" fill="none" stroke="#00BF7D" stroke-opacity="0.24" stroke-width="1.6"/>
<polyline points="156.9,629.4 238.5,595.2 320.0,576.1 401.5,668.5 483.0,695.7 564.6,676.7" fill="none" stroke="#00BF7D" stroke-opacity="0.24" stroke-width="1.6"/>
<polyline points="156.9,562.8 238.5,540.2 320.0,568.2 401.5,546.0 483.0,620.9 564.6,658.2" fill="none" stroke="#00BF7D" stroke-opacity="0.24" stroke-width="1.6"/>
<polyline points="156.9,567.7 238.5,516.4 320.0,495.3 401.5,538.2 483.0,676.6 564.6,666.4" fill="none" stroke="#00BF7D" stroke-opacity="0.24" stroke-width="1.6"/>
<polyline points="156.9,515.5 238.5,507.7 320.0,521.3 401.5,494.6 483.0,554.7 564.6,639.4" fill="none" stroke="#00BF7D" stroke-opacity="0.24" stroke-width="1.6"/>
<polyline points="156.9,613.7 238.5,549.1 320.0,582.0 401.5,615.4 483.0,702.1 564.6,682.8" fill="none" stroke="#00BF7D" stroke-opacity="0.24" stroke-width="1.6"/>
<polyline points="156.9,527.3 238.5,512.2 320.0,544.2 401.5,549.8 483.0,608.3 564.6,618.0" fill="none" stroke="#00BF7D" stroke-opacity="0.24" stroke-width="1.6"/>
<polyline points="156.9,501.8 238.5,498.6 320.0,545.4 401.5,569.1 483.0,646.2 564.6,625.1" fill="none" stroke="#00BF7D" stroke-opacity="0.24" stroke-width="1.6"/>
<line x1="156.92" x2="156.92" y1="460.60" y2="515.49" stroke="#00BF7D" stroke-width="1.9"/>
<line x1="156.92" x2="156.92" y1="582.51" y2="644.97" stroke="#00BF7D" stroke-width="1.9"/>
<rect x="126.34" y="515.49" width="61.15" height="67.02" fill="none" stroke="#00BF7D" stroke-width="1.9"/>
<line x1="126.34" x2="187.49" y1="562.78" y2="562.78" stroke="#00BF7D" stroke-width="4.9"/>
<line x1="238.45" x2="238.45" y1="493.99" y2="511.19" stroke="#00BF7D" stroke-width="1.9"/>
<line x1="238.45" x2="238.45" y1="560.25" y2="595.15" stroke="#00BF7D" stroke-width="1.9"/>
<rect x="207.88" y="511.19" width="61.15" height="49.06" fill="none" stroke="#00BF7D" stroke-width="1.9"/>
<line x1="207.88" x2="269.03" y1="526.87" y2="526.87" stroke="#00BF7D" stroke-width="4.9"/>
<circle cx="238.45" cy="655.34" r="5" fill="#00BF7D" fill-opacity="0.8"/>
<line x1="319.98" x2="319.98" y1="521.30" y2="543.56" stroke="#00BF7D" stroke-width="1.9"/>
<line x1="319.98" x2="319.98" y1="571.63" y2="582.00" stroke="#00BF7D" stroke-width="1.9"/>
<rect x="289.41" y="543.56" width="61.15" height="28.07" fill="none" stroke="#00BF7D" stroke-width="1.9"/>
<line x1="289.41" x2="350.56" y1="547.86" y2="547.86" stroke="#00BF7D" stroke-width="4.9"/>
<circle cx="319.98" cy="495.25" r="5" fill="#00BF7D" fill-opacity="0.8"/>
<circle cx="319.98" cy="629.55" r="5" fill="#00BF7D" fill-opacity="0.8"/>
<line x1="401.52" x2="401.52" y1="480.08" y2="538.25" stroke="#00BF7D" stroke-width="1.9"/>
<line x1="401.52" x2="401.52" y1="615.38" y2="686.20" stroke="#00BF7D" stroke-width="1.9"/>
<rect x="370.94" y="538.25" width="61.15" height="77.14" fill="none" stroke="#00BF7D" stroke-width="1.9"/>
<line x1="370.94" x2="432.09" y1="553.67" y2="553.67" stroke="#00BF7D" stroke-width="4.9"/>
<line x1="483.05" x2="483.05" y1="554.69" y2="608.30" stroke="#00BF7D" stroke-width="1.9"/>
<line x1="483.05" x2="483.05" y1="676.59" y2="702.13" stroke="#00BF7D" stroke-width="1.9"/>
<rect x="452.47" y="608.30" width="61.15" height="68.29" fill="none" stroke="#00BF7D" stroke-width="1.9"/>
<line x1="452.47" x2="513.62" y1="658.88" y2="658.88" stroke="#00BF7D" stroke-width="4.9"/>
<line x1="564.58" x2="564.58" y1="610.83" y2="639.41" stroke="#00BF7D" stroke-width="1.9"/>
<line x1="564.58" x2="564.58" y1="670.52" y2="695.05" stroke="#00BF7D" stroke-width="1.9"/>
<rect x="534.01" y="639.41" width="61.15" height="31.11" fill="none" stroke="#00BF7D" stroke-width="1.9"/>
<line x1="534.01" x2="595.16" y1="654.08" y2="654.08" stroke="#00BF7D" stroke-width="4.9"/>
<line x1="100.00" x2="108.00" y1="712.75" y2="712.75" stroke="#333333" stroke-width="1.9"/>
<text x="93.70" y="722.85" text-anchor="end" font-family='"Liberation Sans", sans-serif' font-size="23" fill="#4D4D4D">0.00</text>
<line x1="100.00" x2="108.00" y1="649.53" y2="649.53" stroke="#333333" stroke-width="1.9"/>
<text x="93.70" y="659.63" text-anchor="end" font-family='"Liberation Sans", sans-serif' font-size="23" fill="#4D4D4D">0.25</text>
<line x1="100.00" x2="108.00" y1="586.30" y2="586.30" stroke="#333333" stroke-width="1.9"/>
<text x="93.70" y="596.40" text-anchor="end" font-family='"Liberation Sans", sans-serif' font-size="23" fill="#4D4D4D">0.50</text>
<line x1="100.00" x2="108.00" y1="523.07" y2="523.07" stroke="#333333" stroke-width="1.9"/>
<text x="93.70" y="533.17" text-anchor="end" font-family='"Liberation Sans", sans-serif' font-size="23" fill="#4D4D4D">0.75</text>
<line x1="100.00" x2="108.00" y1="459.85" y2="459.85" stroke="#333333" stroke-width="1.9"/>
<text x="93.70" y="469.95" text-anchor="end" font-family='"Liberation Sans", sans-serif' font-size="23" fill="#4D4D4D">1.00</text>
<rect x="628.13" y="401.00" width="505.5" height="46.2" fill="#D9D9D9"/>
<text x="880.88" y="434.20" text-anchor="middle" font-family='"Liberation Sans", sans-serif' font-size="22.6" fill="#1A1A1A">North America and ANZ</text>
<rect x="628.13" y="447.20" width="505.5" height="278.2" fill="#EBEBEB"/>
<line x1="628.13" x2="1133.63" y1="681.14" y2="681.14" stroke="#FFFFFF" stroke-width="1.4"/>
<line x1="628.13" x2="1133.63" y1="617.91" y2="617.91" stroke="#FFFFFF" stroke-width="1.4"/>
<line x1="628.13" x2="1133.63" y1="554.69" y2="554.69" stroke="#FFFFFF" stroke-width="1.4"/>
<line x1="628.13" x2="1133.63" y1="491.46" y2="491.46" stroke="#FFFFFF" stroke-width="1.4"/>
<line x1="628.13" x2="1133.63" y1="712.75" y2="712.75" stroke="#FFFFFF" stroke-width="1.9"/>
<line x1="628.13" x2="1133.63" y1="649.53" y2="649.53" stroke="#FFFFFF" stroke-width="1.9"/>
<line x1="628.13" x2="1133.63" y1="586.30" y2="586.30" stroke="#FFFFFF" stroke-width="1.9"/>
<line x1="628.13" x2="1133.63" y1="523.07" y2="523.07" stroke="#FFFFFF" stroke-width="1.9"/>
<line x1="628.13" x2="1133.63" y1="459.85" y2="459.85" stroke="#FFFFFF" stroke-width="1.9"/>
<line x1="677.05" x2="677.05" y1="447.20" y2="725.40" stroke="#FFFFFF" stroke-width="1.9"/>
<line x1="758.58" x2="758.58" y1="447.20" y2="725.40" stroke="#FFFFFF" stroke-width="1.9"/>
<line x1="840.11" x2="840.11" y1="447.20" y2="725.40" stroke="#FFFFFF" stroke-width="1.9"/>
<line x1="921.65" x2="921.65" y1="447.20" y2="725.40" stroke="#FFFFFF" stroke-width="1.9"/>
<line x1="1003.18" x2="1003.18" y1="447.20" y2="725.40" stroke="#FFFFFF" stroke-width="1.9"/>
<line x1="1084.71" x2="1084.71" y1="447.20" y2="725.40" stroke="#FFFFFF" stroke-width="1.9"/>
<rect x="646.47" y="505.37" width="61.15" height="7.59" fill="#FFFFFF" fill-opacity="0.75"/>
<rect x="728.01" y="470.47" width="61.15" height="10.12" fill="#FFFFFF" fill-opacity="0.75"/>
<rect x="809.54" y="492.22" width="61.15" height="10.12" fill="#FFFFFF" fill-opacity="0.75"/>
<rect x="891.07" y="484.38" width="61.15" height="12.14" fill="#FFFFFF" fill-opacity="0.75"/>
<rect x="972.60" y="560.25" width="61.15" height="20.99" fill="#FFFFFF" fill-opacity="0.75"/>
<rect x="1054.14" y="534.45" width="61.15" height="39.96" fill="#FFFFFF" fill-opacity="0.75"/>
<polyline points="677.0,499.8 758.6,487.2 840.1,512.5 921.6,522.3 1003.2,590.1 1084.7,640.7" fill="none" stroke="#00BFC4" stroke-opacity="0.24" stroke-width="1.6"/>
<polyline points="677.0,519.3 758.6,477.8 840.1,500.3 921.6,487.7 1003.2,578.7 1084.7,552.9" fill="none" stroke="#00BFC4" stroke-opacity="0.24" stroke-width="1.6"/>
<polyline points="677.0,513.0 758.6,471.2 840.1,492.7 921.6,485.1 1003.2,561.0 1084.7,546.3" fill="none" stroke="#00BFC4" stroke-opacity="0.24" stroke-width="1.6"/>
<polyline points="677.0,505.4 758.6,468.2 840.1,491.0 921.6,479.6 1003.2,559.7 1084.7,499.0" fill="none" stroke="#00BFC4" stroke-opacity="0.24" stroke-width="1.6"/>
<line x1="677.05" x2="677.05" y1="499.81" y2="505.37" stroke="#00BFC4" stroke-width="1.9"/>
<line x1="677.05" x2="677.05" y1="512.96" y2="519.28" stroke="#00BFC4" stroke-width="1.9"/>
<rect x="646.47" y="505.37" width="61.15" height="7.59" fill="none" stroke="#00BFC4" stroke-width="1.9"/>
<line x1="646.47" x2="707.62" y1="509.16" y2="509.16" stroke="#00BFC4" stroke-width="4.9"/>
<line x1="758.58" x2="758.58" y1="468.19" y2="470.47" stroke="#00BFC4" stroke-width="1.9"/>
<line x1="758.58" x2="758.58" y1="480.58" y2="487.16" stroke="#00BFC4" stroke-width="1.9"/>
<rect x="728.01" y="470.47" width="61.15" height="10.12" fill="none" stroke="#00BFC4" stroke-width="1.9"/>
<line x1="728.01" x2="789.16" y1="474.51" y2="474.51" stroke="#00BFC4" stroke-width="4.9"/>
<line x1="840.11" x2="840.11" y1="490.95" y2="492.22" stroke="#00BFC4" stroke-width="1.9"/>
<line x1="840.11" x2="840.11" y1="502.33" y2="512.45" stroke="#00BFC4" stroke-width="1.9"/>
<rect x="809.54" y="492.22" width="61.15" height="10.12" fill="none" stroke="#00BFC4" stroke-width="1.9"/>
<line x1="809.54" x2="870.69" y1="496.52" y2="496.52" stroke="#00BFC4" stroke-width="4.9"/>
<line x1="921.65" x2="921.65" y1="479.57" y2="484.38" stroke="#00BFC4" stroke-width="1.9"/>
<line x1="921.65" x2="921.65" y1="496.52" y2="496.52" stroke="#00BFC4" stroke-width="1.9"/>
<rect x="891.07" y="484.38" width="61.15" height="12.14" fill="none" stroke="#00BFC4" stroke-width="1.9"/>
<line x1="891.07" x2="952.22" y1="486.40" y2="486.40" stroke="#00BFC4" stroke-width="4.9"/>
<circle cx="921.65" cy="522.31" r="5" fill="#00BFC4" fill-opacity="0.8"/>
<line x1="1003.18" x2="1003.18" y1="559.74" y2="560.25" stroke="#00BFC4" stroke-width="1.9"/>
<line x1="1003.18" x2="1003.18" y1="581.24" y2="590.09" stroke="#00BFC4" stroke-width="1.9"/>
<rect x="972.60" y="560.25" width="61.15" height="20.99" fill="none" stroke="#00BFC4" stroke-width="1.9"/>
<line x1="972.60" x2="1033.75" y1="569.86" y2="569.86" stroke="#00BFC4" stroke-width="4.9"/>
<line x1="1084.71" x2="1084.71" y1="499.05" y2="534.45" stroke="#00BFC4" stroke-width="1.9"/>
<line x1="1084.71" x2="1084.71" y1="574.41" y2="574.41" stroke="#00BFC4" stroke-width="1.9"/>
<rect x="1054.14" y="534.45" width="61.15" height="39.96" fill="none" stroke="#00BFC4" stroke-width="1.9"/>
<line x1="1054.14" x2="1115.29" y1="549.63" y2="549.63" stroke="#00BFC4" stroke-width="4.9"/>
<circle cx="1084.71" cy="640.68" r="5" fill="#00BFC4" fill-opacity="0.8"/>
<rect x="1148.26" y="401.00" width="505.5" height="46.2" fill="#D9D9D9"/>
<text x="1401.01" y="434.20" text-anchor="middle" font-family='"Liberation Sans", sans-serif' font-size="22.6" fill="#1A1A1A">South Asia</text>
<rect x="1148.26" y="447.20" width="505.5" height="278.2" fill="#EBEBEB"/>
<line x1="1148.26" x2="1653.76" y1="681.14" y2="681.14" stroke="#FFFFFF" stroke-width="1.4"/>
<line x1="1148.26" x2="1653.76" y1="617.91" y2="617.91" stroke="#FFFFFF" stroke-width="1.4"/>
<line x1="1148.26" x2="1653.76" y1="554.69" y2="554.69" stroke="#FFFFFF" stroke-width="1.4"/>
<line x1="1148.26" x2="1653.76" y1="491.46" y2="491.46" stroke="#FFFFFF" stroke-width="1.4"/>
<line x1="1148.26" x2="1653.76" y1="712.75" y2="712.75" stroke="#FFFFFF" stroke-width="1.9"/>
<line x1="1148.26" x2="1653.76" y1="649.53" y2="649.53" stroke="#FFFFFF" stroke-width="1.9"/>
<line x1="1148.26" x2="1653.76" y1="586.30" y2="586.30" stroke="#FFFFFF" stroke-width="1.9"/>
<line x1="1148.26" x2="1653.76" y1="523.07" y2="523.07" stroke="#FFFFFF" stroke-width="1.9"/>
<line x1="1148.26" x2="1653.76" y1="459.85" y2="459.85" stroke="#FFFFFF" stroke-width="1.9"/>
<line x1="1197.18" x2="1197.18" y1="447.20" y2="725.40" stroke="#FFFFFF" stroke-width="1.9"/>
<line x1="1278.71" x2="1278.71" y1="447.20" y2="725.40" stroke="#FFFFFF" stroke-width="1.9"/>
<line x1="1360.24" x2="1360.24" y1="447.20" y2="725.40" stroke="#FFFFFF" stroke-width="1.9"/>
<line x1="1441.78" x2="1441.78" y1="447.20" y2="725.40" stroke="#FFFFFF" stroke-width="1.9"/>
<line x1="1523.31" x2="1523.31" y1="447.20" y2="725.40" stroke="#FFFFFF" stroke-width="1.9"/>
<line x1="1604.84" x2="1604.84" y1="447.20" y2="725.40" stroke="#FFFFFF" stroke-width="1.9"/>
<rect x="1166.60" y="597.68" width="61.15" height="42.99" fill="#FFFFFF" fill-opacity="0.75"/>
<rect x="1248.14" y="518.01" width="61.15" height="75.37" fill="#FFFFFF" fill-opacity="0.75"/>
<rect x="1329.67" y="576.44" width="61.15" height="25.80" fill="#FFFFFF" fill-opacity="0.75"/>
<rect x="1411.20" y="517.26" width="61.15" height="46.28" fill="#FFFFFF" fill-opacity="0.75"/>
<rect x="1492.73" y="584.53" width="61.15" height="52.86" fill="#FFFFFF" fill-opacity="0.75"/>
<rect x="1574.27" y="642.45" width="61.15" height="36.17" fill="#FFFFFF" fill-opacity="0.75"/>
<polyline points="1197.2,662.2 1278.7,631.1 1360.2,651.3 1441.8,684.4 1523.3,640.7 1604.8,634.4" fill="none" stroke="#00B0F6" stroke-opacity="0.24" stroke-width="1.6"/>
<polyline points="1197.2,603.2 1278.7,595.2 1360.2,609.1 1441.8,597.7 1523.3,623.0 1604.8,650.8" fill="none" stroke="#00B0F6" stroke-opacity="0.24" stroke-width="1.6"/>
<polyline points="1197.2,648.3 1278.7,524.3 1360.2,580.0 1441.8,529.4 1523.3,578.7 1604.8,681.1" fill="none" stroke="#00B0F6" stroke-opacity="0.24" stroke-width="1.6"/>
<polyline points="1197.2,572.9 1278.7,509.2 1360.2,548.9 1441.8,509.7 1523.3,559.7 1604.8,619.7" fill="none" stroke="#00B0F6" stroke-opacity="0.24" stroke-width="1.6"/>
<polyline points="1197.2,588.8 1278.7,511.7 1360.2,572.4 1441.8,517.3 1523.3,590.1 1604.8,676.1" fill="none" stroke="#00B0F6" stroke-opacity="0.24" stroke-width="1.6"/>
<polyline points="1197.2,633.1 1278.7,591.4 1360.2,595.2 1441.8,519.3 1523.3,649.5 1604.8,693.0" fill="none" stroke="#00B0F6" stroke-opacity="0.24" stroke-width="1.6"/>
<polyline points="1197.2,614.1 1278.7,583.0 1360.2,585.0 1441.8,525.9 1523.3,634.4 1604.8,662.9" fill="none" stroke="#00B0F6" stroke-opacity="0.24" stroke-width="1.6"/>
<line x1="1197.18" x2="1197.18" y1="572.90" y2="597.68" stroke="#00B0F6" stroke-width="1.9"/>
<line x1="1197.18" x2="1197.18" y1="640.68" y2="662.17" stroke="#00B0F6" stroke-width="1.9"/>
<rect x="1166.60" y="597.68" width="61.15" height="42.99" fill="none" stroke="#00B0F6" stroke-width="1.9"/>
<line x1="1166.60" x2="1227.75" y1="614.12" y2="614.12" stroke="#00B0F6" stroke-width="4.9"/>
<line x1="1278.71" x2="1278.71" y1="509.16" y2="518.01" stroke="#00B0F6" stroke-width="1.9"/>
<line x1="1278.71" x2="1278.71" y1="593.38" y2="631.06" stroke="#00B0F6" stroke-width="1.9"/>
<rect x="1248.14" y="518.01" width="61.15" height="75.37" fill="none" stroke="#00B0F6" stroke-width="1.9"/>
<line x1="1248.14" x2="1309.29" y1="583.01" y2="583.01" stroke="#00B0F6" stroke-width="4.9"/>
<line x1="1360.24" x2="1360.24" y1="548.87" y2="576.44" stroke="#00B0F6" stroke-width="1.9"/>
<line x1="1360.24" x2="1360.24" y1="602.23" y2="609.06" stroke="#00B0F6" stroke-width="1.9"/>
<rect x="1329.67" y="576.44" width="61.15" height="25.80" fill="none" stroke="#00B0F6" stroke-width="1.9"/>
<line x1="1329.67" x2="1390.82" y1="585.04" y2="585.04" stroke="#00B0F6" stroke-width="4.9"/>
<circle cx="1360.24" cy="651.30" r="5" fill="#00B0F6" fill-opacity="0.8"/>
<line x1="1441.78" x2="1441.78" y1="509.67" y2="517.26" stroke="#00B0F6" stroke-width="1.9"/>
<line x1="1441.78" x2="1441.78" y1="563.54" y2="597.68" stroke="#00B0F6" stroke-width="1.9"/>
<rect x="1411.20" y="517.26" width="61.15" height="46.28" fill="none" stroke="#00B0F6" stroke-width="1.9"/>
<line x1="1411.20" x2="1472.35" y1="525.85" y2="525.85" stroke="#00B0F6" stroke-width="4.9"/>
<circle cx="1441.78" cy="684.43" r="5" fill="#00B0F6" fill-opacity="0.8"/>
<line x1="1523.31" x2="1523.31" y1="559.74" y2="584.53" stroke="#00B0F6" stroke-width="1.9"/>
<line x1="1523.31" x2="1523.31" y1="637.39" y2="649.53" stroke="#00B0F6" stroke-width="1.9"/>
<rect x="1492.73" y="584.53" width="61.15" height="52.86" fill="none" stroke="#00B0F6" stroke-width="1.9"/>
<line x1="1492.73" x2="1553.88" y1="622.97" y2="622.97" stroke="#00B0F6" stroke-width="4.9"/>
<line x1="1604.84" x2="1604.84" y1="619.68" y2="642.45" stroke="#00B0F6" stroke-width="1.9"/>
<line x1="1604.84" x2="1604.84" y1="678.61" y2="693.03" stroke="#00B0F6" stroke-width="1.9"/>
<rect x="1574.27" y="642.45" width="61.15" height="36.17" fill="none" stroke="#00B0F6" stroke-width="1.9"/>
<line x1="1574.27" x2="1635.42" y1="662.93" y2="662.93" stroke="#00B0F6" stroke-width="4.9"/>
<rect x="1668.40" y="401.00" width="505.5" height="46.2" fill="#D9D9D9"/>
<text x="1921.15" y="434.20" text-anchor="middle" font-family='"Liberation Sans", sans-serif' font-size="22.6" fill="#1A1A1A">Southeast Asia</text>
<rect x="1668.40" y="447.20" width="505.5" height="278.2" fill="#EBEBEB"/>
<line x1="1668.40" x2="2173.90" y1="681.14" y2="681.14" stroke="#FFFFFF" stroke-width="1.4"/>
<line x1="1668.40" x2="2173.90" y1="617.91" y2="617.91" stroke="#FFFFFF" stroke-width="1.4"/>
<line x1="1668.40" x2="2173.90" y1="554.69" y2="554.69" stroke="#FFFFFF" stroke-width="1.4"/>
<line x1="1668.40" x2="2173.90" y1="491.46" y2="491.46" stroke="#FFFFFF" stroke-width="1.4"/>
<line x1="1668.40" x2="2173.90" y1="712.75" y2="712.75" stroke="#FFFFFF" stroke-width="1.9"/>
<line x1="1668.40" x2="2173.90" y1="649.53" y2="649.53" stroke="#FFFFFF" stroke-width="1.9"/>
<line x1="1668.40" x2="2173.90" y1="586.30" y2="586.30" stroke="#FFFFFF" stroke-width="1.9"/>
<line x1="1668.40" x2="2173.90" y1="523.07" y2="523.07" stroke="#FFFFFF" stroke-width="1.9"/>
<line x1="1668.40" x2="2173.90" y1="459.85" y2="459.85" stroke="#FFFFFF" stroke-width="1.9"/>
<line x1="1717.32" x2="1717.32" y1="447.20" y2="725.40" stroke="#FFFFFF" stroke-width="1.9"/>
<line x1="1798.85" x2="1798.85" y1="447.20" y2="725.40" stroke="#FFFFFF" stroke-width="1.9"/>
<line x1="1880.38" x2="1880.38" y1="447.20" y2="725.40" stroke="#FFFFFF" stroke-width="1.9"/>
<line x1="1961.92" x2="1961.92" y1="447.20" y2="725.40" stroke="#FFFFFF" stroke-width="1.9"/>
<line x1="2043.45" x2="2043.45" y1="447.20" y2="725.40" stroke="#FFFFFF" stroke-width="1.9"/>
<line x1="2124.98" x2="2124.98" y1="447.20" y2="725.40" stroke="#FFFFFF" stroke-width="1.9"/>
<rect x="1686.74" y="557.72" width="61.15" height="46.79" fill="#FFFFFF" fill-opacity="0.75"/>
<rect x="1768.28" y="503.35" width="61.15" height="30.10" fill="#FFFFFF" fill-opacity="0.75"/>
<rect x="1849.81" y="541.54" width="61.15" height="59.94" fill="#FFFFFF" fill-opacity="0.75"/>
<rect x="1931.34" y="491.46" width="61.15" height="19.73" fill="#FFFFFF" fill-opacity="0.75"/>
<rect x="2012.87" y="559.24" width="61.15" height="57.16" fill="#FFFFFF" fill-opacity="0.75"/>
<rect x="2094.41" y="617.41" width="61.15" height="63.73" fill="#FFFFFF" fill-opacity="0.75"/>
<polyline points="1717.3,629.3 1798.9,497.1 1880.4,585.8 1961.9,491.8 2043.4,565.6 2125.0,655.7" fill="none" stroke="#9590FF" stroke-opacity="0.24" stroke-width="1.6"/>
<polyline points="1717.3,535.7 1798.9,503.3 1880.4,504.1 1961.9,470.7 2043.4,508.7 2125.0,617.1" fill="none" stroke="#9590FF" stroke-opacity="0.24" stroke-width="1.6"/>
<polyline points="1717.3,597.5 1798.9,554.2 1880.4,593.6 1961.9,508.7 2043.4,591.0 2125.0,690.6" fill="none" stroke="#9590FF" stroke-opacity="0.24" stroke-width="1.6"/>
<polyline points="1717.3,584.1 1798.9,520.5 1880.4,563.7 1961.9,524.8 2043.4,663.4 2125.0,460.4" fill="none" stroke="#9590FF" stroke-opacity="0.24" stroke-width="1.6"/>
<polyline points="1717.3,479.3 1798.9,511.9 1880.4,604.9 1961.9,498.9 2043.4,614.6 2125.0,703.1" fill="none" stroke="#9590FF" stroke-opacity="0.24" stroke-width="1.6"/>
<polyline points="1717.3,615.1 1798.9,543.8 1880.4,608.3 1961.9,517.0 2043.4,636.6 2125.0,673.9" fill="none" stroke="#9590FF" stroke-opacity="0.24" stroke-width="1.6"/>
<polyline points="1717.3,548.3 1798.9,491.0 1880.4,466.7 1961.9,482.6 2043.4,537.6 2125.0,616.6" fill="none" stroke="#9590FF" stroke-opacity="0.24" stroke-width="1.6"/>
<polyline points="1717.3,563.0 1798.9,527.0 1880.4,541.5 1961.9,589.3 2043.4,460.4 2125.0,679.7" fill="none" stroke="#9590FF" stroke-opacity="0.24" stroke-width="1.6"/>
<polyline points="1717.3,603.1 1798.9,533.4 1880.4,601.5 1961.9,493.3 2043.4,607.4 2125.0,625.1" fill="none" stroke="#9590FF" stroke-opacity="0.24" stroke-width="1.6"/>
<line x1="1717.32" x2="1717.32" y1="535.72" y2="557.72" stroke="#9590FF" stroke-width="1.9"/>
<line x1="1717.32" x2="1717.32" y1="604.51" y2="629.29" stroke="#9590FF" stroke-width="1.9"/>
<rect x="1686.74" y="557.72" width="61.15" height="46.79" fill="none" stroke="#9590FF" stroke-width="1.9"/>
<line x1="1686.74" x2="1747.89" y1="594.65" y2="594.65" stroke="#9590FF" stroke-width="4.9"/>
<circle cx="1717.32" cy="479.32" r="5" fill="#9590FF" fill-opacity="0.8"/>
<line x1="1798.85" x2="1798.85" y1="490.95" y2="503.35" stroke="#9590FF" stroke-width="1.9"/>
<line x1="1798.85" x2="1798.85" y1="533.44" y2="554.18" stroke="#9590FF" stroke-width="1.9"/>
<rect x="1768.28" y="503.35" width="61.15" height="30.10" fill="none" stroke="#9590FF" stroke-width="1.9"/>
<line x1="1768.28" x2="1829.43" y1="520.54" y2="520.54" stroke="#9590FF" stroke-width="4.9"/>
<line x1="1880.38" x2="1880.38" y1="466.67" y2="541.54" stroke="#9590FF" stroke-width="1.9"/>
<line x1="1880.38" x2="1880.38" y1="601.47" y2="608.30" stroke="#9590FF" stroke-width="1.9"/>
<rect x="1849.81" y="541.54" width="61.15" height="59.94" fill="none" stroke="#9590FF" stroke-width="1.9"/>
<line x1="1849.81" x2="1910.96" y1="585.79" y2="585.79" stroke="#9590FF" stroke-width="4.9"/>
<line x1="1961.92" x2="1961.92" y1="470.72" y2="491.46" stroke="#9590FF" stroke-width="1.9"/>
<line x1="1961.92" x2="1961.92" y1="511.19" y2="524.84" stroke="#9590FF" stroke-width="1.9"/>
<rect x="1931.34" y="491.46" width="61.15" height="19.73" fill="none" stroke="#9590FF" stroke-width="1.9"/>
<line x1="1931.34" x2="1992.49" y1="493.99" y2="493.99" stroke="#9590FF" stroke-width="4.9"/>
<circle cx="1961.92" cy="589.33" r="5" fill="#9590FF" fill-opacity="0.8"/>
<line x1="2043.45" x2="2043.45" y1="508.66" y2="559.24" stroke="#9590FF" stroke-width="1.9"/>
<line x1="2043.45" x2="2043.45" y1="616.40" y2="663.44" stroke="#9590FF" stroke-width="1.9"/>
<rect x="2012.87" y="559.24" width="61.15" height="57.16" fill="none" stroke="#9590FF" stroke-width="1.9"/>
<line x1="2012.87" x2="2074.02" y1="603.75" y2="603.75" stroke="#9590FF" stroke-width="4.9"/>
<circle cx="2043.45" cy="460.35" r="5" fill="#9590FF" fill-opacity="0.8"/>
<line x1="2124.98" x2="2124.98" y1="616.65" y2="617.41" stroke="#9590FF" stroke-width="1.9"/>
<line x1="2124.98" x2="2124.98" y1="681.14" y2="703.14" stroke="#9590FF" stroke-width="1.9"/>
<rect x="2094.41" y="617.41" width="61.15" height="63.73" fill="none" stroke="#9590FF" stroke-width="1.9"/>
<line x1="2094.41" x2="2155.56" y1="671.02" y2="671.02" stroke="#9590FF" stroke-width="4.9"/>
<circle cx="2124.98" cy="460.35" r="5" fill="#9590FF" fill-opacity="0.8"/>
<rect x="108.00" y="741.00" width="505.5" height="46.2" fill="#D9D9D9"/>
<text x="360.75" y="774.20" text-anchor="middle" font-family='"Liberation Sans", sans-serif' font-size="22.6" fill="#1A1A1A">Sub-Saharan Africa</text>
<rect x="108.00" y="787.20" width="505.5" height="278.2" fill="#EBEBEB"/>
<line x1="108.00" x2="613.50" y1="1021.14" y2="1021.14" stroke="#FFFFFF" stroke-width="1.4"/>
<line x1="108.00" x2="613.50" y1="957.91" y2="957.91" stroke="#FFFFFF" stroke-width="1.4"/>
<line x1="108.00" x2="613.50" y1="894.69" y2="894.69" stroke="#FFFFFF" stroke-width="1.4"/>
<line x1="108.00" x2="613.50" y1="831.46" y2="831.46" stroke="#FFFFFF" stroke-width="1.4"/>
<line x1="108.00" x2="613.50" y1="1052.75" y2="1052.75" stroke="#FFFFFF" stroke-width="1.9"/>
<line x1="108.00" x2="613.50" y1="989.53" y2="989.53" stroke="#FFFFFF" stroke-width="1.9"/>
<line x1="108.00" x2="613.50" y1="926.30" y2="926.30" stroke="#FFFFFF" stroke-width="1.9"/>
<line x1="108.00" x2="613.50" y1="863.07" y2="863.07" stroke="#FFFFFF" stroke-width="1.9"/>
<line x1="108.00" x2="613.50" y1="799.85" y2="799.85" stroke="#FFFFFF" stroke-width="1.9"/>
<line x1="156.92" x2="156.92" y1="787.20" y2="1065.40" stroke="#FFFFFF" stroke-width="1.9"/>
<line x1="238.45" x2="238.45" y1="787.20" y2="1065.40" stroke="#FFFFFF" stroke-width="1.9"/>
<line x1="319.98" x2="319.98" y1="787.20" y2="1065.40" stroke="#FFFFFF" stroke-width="1.9"/>
<line x1="401.52" x2="401.52" y1="787.20" y2="1065.40" stroke="#FFFFFF" stroke-width="1.9"/>
<line x1="483.05" x2="483.05" y1="787.20" y2="1065.40" stroke="#FFFFFF" stroke-width="1.9"/>
<line x1="564.58" x2="564.58" y1="787.20" y2="1065.40" stroke="#FFFFFF" stroke-width="1.9"/>
<rect x="126.34" y="963.91" width="61.15" height="48.71" fill="#FFFFFF" fill-opacity="0.75"/>
<rect x="207.88" y="876.07" width="61.15" height="47.96" fill="#FFFFFF" fill-opacity="0.75"/>
<rect x="289.41" y="965.93" width="61.15" height="43.92" fill="#FFFFFF" fill-opacity="0.75"/>
<rect x="370.94" y="876.83" width="61.15" height="59.32" fill="#FFFFFF" fill-opacity="0.75"/>
<rect x="452.47" y="961.38" width="61.15" height="33.57" fill="#FFFFFF" fill-opacity="0.75"/>
<rect x="534.01" y="997.48" width="61.15" height="25.24" fill="#FFFFFF" fill-opacity="0.75"/>
<polyline points="156.9,1013.8 238.5,900.9 320.0,1036.8 401.5,973.6 483.0,968.7 564.6,1024.1" fill="none" stroke="#E76BF3" stroke-opacity="0.24" stroke-width="1.6"/>
<polyline points="156.9,945.0 238.5,886.2 320.0,993.9 401.5,953.6 483.0,961.4 564.6,897.0" fill="none" stroke="#E76BF3" stroke-opacity="0.24" stroke-width="1.6"/>
<polyline points="156.9,1007.2 238.5,850.9 320.0,944.2 401.5,855.8 483.0,949.8 564.6,1015.8" fill="none" stroke="#E76BF3" stroke-opacity="0.24" stroke-width="1.6"/>
<polyline points="156.9,953.4 238.5,846.1 320.0,941.2 401.5,890.3 483.0,987.9 564.6,969.3" fill="none" stroke="#E76BF3" stroke-opacity="0.24" stroke-width="1.6"/>
<polyline points="156.9,1009.1 238.5,960.4 320.0,1016.3 401.5,893.4 483.0,992.6 564.6,1002.8" fill="none" stroke="#E76BF3" stroke-opacity="0.24" stroke-width="1.6"/>
<polyline points="156.9,1001.2 238.5,918.1 320.0,968.2 401.5,912.5 483.0,983.1 564.6,977.7" fill="none" stroke="#E76BF3" stroke-opacity="0.24" stroke-width="1.6"/>
<polyline points="156.9,1042.6 238.5,934.7 320.0,1026.6 401.5,963.6 483.0,1022.1 564.6,1029.4" fill="none" stroke="#E76BF3" stroke-opacity="0.24" stroke-width="1.6"/>
<polyline points="156.9,928.2 238.5,841.2 320.0,953.2 401.5,832.8 483.0,944.0 564.6,986.0" fill="none" stroke="#E76BF3" stroke-opacity="0.24" stroke-width="1.6"/>
<polyline points="156.9,1023.4 238.5,904.5 320.0,991.6 401.5,921.5 483.0,980.8 564.6,1020.7" fill="none" stroke="#E76BF3" stroke-opacity="0.24" stroke-width="1.6"/>
<polyline points="156.9,978.6 238.5,882.5 320.0,1011.1 401.5,840.5 483.0,963.2 564.6,973.5" fill="none" stroke="#E76BF3" stroke-opacity="0.24" stroke-width="1.6"/>
<polyline points="156.9,1003.2 238.5,907.4 320.0,1001.0 401.5,896.6 483.0,978.4 564.6,1017.4" fill="none" stroke="#E76BF3" stroke-opacity="0.24" stroke-width="1.6"/>
<polyline points="156.9,1037.8 238.5,986.1 320.0,1042.0 401.5,993.6 483.0,1005.8 564.6,1033.0" fill="none" stroke="#E76BF3" stroke-opacity="0.24" stroke-width="1.6"/>
<polyline points="156.9,894.5 238.5,874.9 320.0,959.2 401.5,848.1 483.0,903.8 564.6,994.4" fill="none" stroke="#E76BF3" stroke-opacity="0.24" stroke-width="1.6"/>
<polyline points="156.9,982.5 238.5,911.7 320.0,986.0 401.5,817.5 483.0,974.2 564.6,1010.9" fill="none" stroke="#E76BF3" stroke-opacity="0.24" stroke-width="1.6"/>
<polyline points="156.9,990.3 238.5,909.6 320.0,988.9 401.5,863.4 483.0,958.5 564.6,1009.3" fill="none" stroke="#E76BF3" stroke-opacity="0.24" stroke-width="1.6"/>
<polyline points="156.9,986.4 238.5,916.0 320.0,996.3 401.5,1045.9 483.0,965.0 564.6,1001.1" fill="none" stroke="#E76BF3" stroke-opacity="0.24" stroke-width="1.6"/>
<polyline points="156.9,997.2 238.5,836.4 320.0,983.0 401.5,903.6 483.0,966.9 564.6,990.2" fill="none" stroke="#E76BF3" stroke-opacity="0.24" stroke-width="1.6"/>
<polyline points="156.9,1011.1 238.5,855.7 320.0,1008.1 401.5,930.5 483.0,995.0 564.6,1022.3" fill="none" stroke="#E76BF3" stroke-opacity="0.24" stroke-width="1.6"/>
<polyline points="156.9,970.8 238.5,913.9 320.0,974.1 401.5,877.6 483.0,1000.4 564.6,1012.5" fill="none" stroke="#E76BF3" stroke-opacity="0.24" stroke-width="1.6"/>
<polyline points="156.9,1052.2 238.5,969.0 320.0,1047.1 401.5,1013.6 483.0,976.0 564.6,1034.8" fill="none" stroke="#E76BF3" stroke-opacity="0.24" stroke-width="1.6"/>
<polyline points="156.9,1005.2 238.5,897.2 320.0,1003.4 401.5,880.8 483.0,1016.7 564.6,1019.1" fill="none" stroke="#E76BF3" stroke-opacity="0.24" stroke-width="1.6"/>
<polyline points="156.9,994.3 238.5,920.3 320.0,956.2 401.5,926.0 483.0,985.5 564.6,1006.0" fill="none" stroke="#E76BF3" stroke-opacity="0.24" stroke-width="1.6"/>
<polyline points="156.9,1047.4 238.5,922.4 320.0,1021.4 401.5,1003.6 483.0,1027.5 564.6,1027.6" fill="none" stroke="#E76BF3" stroke-opacity="0.24" stroke-width="1.6"/>
<polyline points="156.9,919.7 238.5,870.1 320.0,962.2 401.5,883.9 483.0,952.7 564.6,1007.7" fill="none" stroke="#E76BF3" stroke-opacity="0.24" stroke-width="1.6"/>
<polyline points="156.9,1018.6 238.5,994.7 320.0,1052.2 401.5,983.6 483.0,1032.9 564.6,1031.2" fill="none" stroke="#E76BF3" stroke-opacity="0.24" stroke-width="1.6"/>
<polyline points="156.9,1033.0 238.5,893.5 320.0,1005.7 401.5,943.6 483.0,990.2 564.6,1025.9" fill="none" stroke="#E76BF3" stroke-opacity="0.24" stroke-width="1.6"/>
<polyline points="156.9,1028.2 238.5,977.6 320.0,998.7 401.5,899.7 483.0,1011.2 564.6,1036.6" fill="none" stroke="#E76BF3" stroke-opacity="0.24" stroke-width="1.6"/>
<polyline points="156.9,961.8 238.5,860.5 320.0,947.2 401.5,825.2 483.0,970.5 564.6,965.2" fill="none" stroke="#E76BF3" stroke-opacity="0.24" stroke-width="1.6"/>
<polyline points="156.9,911.3 238.5,878.8 320.0,950.2 401.5,887.1 483.0,972.4 564.6,999.5" fill="none" stroke="#E76BF3" stroke-opacity="0.24" stroke-width="1.6"/>
<polyline points="156.9,999.2 238.5,951.9 320.0,1031.7 401.5,908.1 483.0,1038.4 564.6,806.9" fill="none" stroke="#E76BF3" stroke-opacity="0.24" stroke-width="1.6"/>
<polyline points="156.9,974.7 238.5,865.3 320.0,965.2 401.5,871.1 483.0,946.9 564.6,1014.2" fill="none" stroke="#E76BF3" stroke-opacity="0.24" stroke-width="1.6"/>
<polyline points="156.9,902.9 238.5,889.8 320.0,977.1 401.5,917.0 483.0,938.2 564.6,981.8" fill="none" stroke="#E76BF3" stroke-opacity="0.24" stroke-width="1.6"/>
<polyline points="156.9,936.6 238.5,926.2 320.0,980.0 401.5,935.0 483.0,941.1 564.6,1004.4" fill="none" stroke="#E76BF3" stroke-opacity="0.24" stroke-width="1.6"/>
<polyline points="156.9,966.8 238.5,943.3 320.0,971.1 401.5,1030.0 483.0,955.6 564.6,997.9" fill="none" stroke="#E76BF3" stroke-opacity="0.24" stroke-width="1.6"/>
<polyline points="156.9,1052.2 238.5,1052.8 320.0,1052.2 401.5,1052.8 483.0,963.9 564.6,1009.3" fill="none" stroke="#E76BF3" stroke-opacity="0.24" stroke-width="1.6"/>
<polyline points="156.9,884.7 238.5,836.4 320.0,884.7 401.5,850.3 483.0,976.5 564.6,963.9" fill="none" stroke="#E76BF3" stroke-opacity="0.24" stroke-width="1.6"/>
<line x1="156.92" x2="156.92" y1="894.50" y2="963.91" stroke="#E76BF3" stroke-width="1.9"/>
<line x1="156.92" x2="156.92" y1="1012.62" y2="1052.25" stroke="#E76BF3" stroke-width="1.9"/>
<rect x="126.34" y="963.91" width="61.15" height="48.71" fill="none" stroke="#E76BF3" stroke-width="1.9"/>
<line x1="126.34" x2="187.49" y1="996.22" y2="996.22" stroke="#E76BF3" stroke-width="4.9"/>
<circle cx="156.92" cy="884.65" r="5" fill="#E76BF3" fill-opacity="0.8"/>
<line x1="238.45" x2="238.45" y1="836.44" y2="876.07" stroke="#E76BF3" stroke-width="1.9"/>
<line x1="238.45" x2="238.45" y1="924.03" y2="994.70" stroke="#E76BF3" stroke-width="1.9"/>
<rect x="207.88" y="876.07" width="61.15" height="47.96" fill="none" stroke="#E76BF3" stroke-width="1.9"/>
<line x1="207.88" x2="269.03" y1="906.36" y2="906.36" stroke="#E76BF3" stroke-width="4.9"/>
<circle cx="238.45" cy="1052.75" r="5" fill="#E76BF3" fill-opacity="0.8"/>
<line x1="319.98" x2="319.98" y1="941.19" y2="965.93" stroke="#E76BF3" stroke-width="1.9"/>
<line x1="319.98" x2="319.98" y1="1009.85" y2="1052.25" stroke="#E76BF3" stroke-width="1.9"/>
<rect x="289.41" y="965.93" width="61.15" height="43.92" fill="none" stroke="#E76BF3" stroke-width="1.9"/>
<line x1="289.41" x2="350.56" y1="990.41" y2="990.41" stroke="#E76BF3" stroke-width="4.9"/>
<circle cx="319.98" cy="884.65" r="5" fill="#E76BF3" fill-opacity="0.8"/>
<line x1="401.52" x2="401.52" y1="817.51" y2="876.83" stroke="#E76BF3" stroke-width="1.9"/>
<line x1="401.52" x2="401.52" y1="936.14" y2="1013.63" stroke="#E76BF3" stroke-width="1.9"/>
<rect x="370.94" y="876.83" width="61.15" height="59.32" fill="none" stroke="#E76BF3" stroke-width="1.9"/>
<line x1="370.94" x2="432.09" y1="901.31" y2="901.31" stroke="#E76BF3" stroke-width="4.9"/>
<circle cx="401.52" cy="1030.04" r="5" fill="#E76BF3" fill-opacity="0.8"/>
<circle cx="401.52" cy="1045.94" r="5" fill="#E76BF3" fill-opacity="0.8"/>
<circle cx="401.52" cy="1052.75" r="5" fill="#E76BF3" fill-opacity="0.8"/>
<line x1="483.05" x2="483.05" y1="938.16" y2="961.38" stroke="#E76BF3" stroke-width="1.9"/>
<line x1="483.05" x2="483.05" y1="994.95" y2="1038.37" stroke="#E76BF3" stroke-width="1.9"/>
<rect x="452.47" y="961.38" width="61.15" height="33.57" fill="none" stroke="#E76BF3" stroke-width="1.9"/>
<line x1="452.47" x2="513.62" y1="976.02" y2="976.02" stroke="#E76BF3" stroke-width="4.9"/>
<circle cx="483.05" cy="903.84" r="5" fill="#E76BF3" fill-opacity="0.8"/>
<line x1="564.58" x2="564.58" y1="965.17" y2="997.48" stroke="#E76BF3" stroke-width="1.9"/>
<line x1="564.58" x2="564.58" y1="1022.72" y2="1036.60" stroke="#E76BF3" stroke-width="1.9"/>
<rect x="534.01" y="997.48" width="61.15" height="25.24" fill="none" stroke="#E76BF3" stroke-width="1.9"/>
<line x1="534.01" x2="595.16" y1="1010.10" y2="1010.10" stroke="#E76BF3" stroke-width="4.9"/>
<circle cx="564.58" cy="806.91" r="5" fill="#E76BF3" fill-opacity="0.8"/>
<circle cx="564.58" cy="897.02" r="5" fill="#E76BF3" fill-opacity="0.8"/>
<line x1="100.00" x2="108.00" y1="1052.75" y2="1052.75" stroke="#333333" stroke-width="1.9"/>
<text x="93.70" y="1062.85" text-anchor="end" font-family='"Liberation Sans", sans-serif' font-size="23" fill="#4D4D4D">0.00</text>
<line x1="100.00" x2="108.00" y1="989.53" y2="989.53" stroke="#333333" stroke-width="1.9"/>
<text x="93.70" y="999.63" text-anchor="end" font-family='"Liberation Sans", sans-serif' font-size="23" fill="#4D4D4D">0.25</text>
<line x1="100.00" x2="108.00" y1="926.30" y2="926.30" stroke="#333333" stroke-width="1.9"/>
<text x="93.70" y="936.40" text-anchor="end" font-family='"Liberation Sans", sans-serif' font-size="23" fill="#4D4D4D">0.50</text>
<line x1="100.00" x2="108.00" y1="863.07" y2="863.07" stroke="#333333" stroke-width="1.9"/>
<text x="93.70" y="873.17" text-anchor="end" font-family='"Liberation Sans", sans-serif' font-size="23" fill="#4D4D4D">0.75</text>
<line x1="100.00" x2="108.00" y1="799.85" y2="799.85" stroke="#333333" stroke-width="1.9"/>
<text x="93.70" y="809.95" text-anchor="end" font-family='"Liberation Sans", sans-serif' font-size="23" fill="#4D4D4D">1.00</text>
<rect x="628.13" y="741.00" width="505.5" height="46.2" fill="#D9D9D9"/>
<text x="880.88" y="774.20" text-anchor="middle" font-family='"Liberation Sans", sans-serif' font-size="22.6" fill="#1A1A1A">Western Europe</text>
<rect x="628.13" y="787.20" width="505.5" height="278.2" fill="#EBEBEB"/>
<line x1="628.13" x2="1133.63" y1="1021.14" y2="1021.14" stroke="#FFFFFF" stroke-width="1.4"/>
<line x1="628.13" x2="1133.63" y1="957.91" y2="957.91" stroke="#FFFFFF" stroke-width="1.4"/>
<line x1="628.13" x2="1133.63" y1="894.69" y2="894.69" stroke="#FFFFFF" stroke-width="1.4"/>
<line x1="628.13" x2="1133.63" y1="831.46" y2="831.46" stroke="#FFFFFF" stroke-width="1.4"/>
<line x1="628.13" x2="1133.63" y1="1052.75" y2="1052.75" stroke="#FFFFFF" stroke-width="1.9"/>
<line x1="628.13" x2="1133.63" y1="989.53" y2="989.53" stroke="#FFFFFF" stroke-width="1.9"/>
<line x1="628.13" x2="1133.63" y1="926.30" y2="926.30" stroke="#FFFFFF" stroke-width="1.9"/>
<line x1="628.13" x2="1133.63" y1="863.07" y2="863.07" stroke="#FFFFFF" stroke-width="1.9"/>
<line x1="628.13" x2="1133.63" y1="799.85" y2="799.85" stroke="#FFFFFF" stroke-width="1.9"/>
<line x1="677.05" x2="677.05" y1="787.20" y2="1065.40" stroke="#FFFFFF" stroke-width="1.9"/>
<line x1="758.58" x2="758.58" y1="787.20" y2="1065.40" stroke="#FFFFFF" stroke-width="1.9"/>
<line x1="840.11" x2="840.11" y1="787.20" y2="1065.40" stroke="#FFFFFF" stroke-width="1.9"/>
<line x1="921.65" x2="921.65" y1="787.20" y2="1065.40" stroke="#FFFFFF" stroke-width="1.9"/>
<line x1="1003.18" x2="1003.18" y1="787.20" y2="1065.40" stroke="#FFFFFF" stroke-width="1.9"/>
<line x1="1084.71" x2="1084.71" y1="787.20" y2="1065.40" stroke="#FFFFFF" stroke-width="1.9"/>
<rect x="646.47" y="845.28" width="61.15" height="13.88" fill="#FFFFFF" fill-opacity="0.75"/>
<rect x="728.01" y="812.97" width="61.15" height="12.87" fill="#FFFFFF" fill-opacity="0.75"/>
<rect x="809.54" y="829.38" width="61.15" height="7.82" fill="#FFFFFF" fill-opacity="0.75"/>
<rect x="891.07" y="821.80" width="61.15" height="49.22" fill="#FFFFFF" fill-opacity="0.75"/>
<rect x="972.60" y="931.85" width="61.15" height="44.68" fill="#FFFFFF" fill-opacity="0.75"/>
<rect x="1054.14" y="875.06" width="61.15" height="100.71" fill="#FFFFFF" fill-opacity="0.75"/>
<polyline points="677.0,860.1 758.6,822.1 840.1,831.9 921.6,865.2 1003.2,979.6 1084.7,904.5" fill="none" stroke="#FF62BC" stroke-opacity="0.24" stroke-width="1.6"/>
<polyline points="677.0,875.6 758.6,831.1 840.1,839.5 921.6,873.0 1003.2,1028.3 1084.7,1042.7" fill="none" stroke="#FF62BC" stroke-opacity="0.24" stroke-width="1.6"/>
<polyline points="677.0,848.5 758.6,814.5 840.1,815.7 921.6,819.4 1003.2,903.3 1084.7,940.0" fill="none" stroke="#FF62BC" stroke-opacity="0.24" stroke-width="1.6"/>
<polyline points="677.0,857.6 758.6,823.1 840.1,830.6 921.6,821.3 1003.2,965.8 1084.7,872.3" fill="none" stroke="#FF62BC" stroke-opacity="0.24" stroke-width="1.6"/>
<polyline points="677.0,853.4 758.6,825.1 840.1,838.7 921.6,896.7 1003.2,948.3 1084.7,927.0" fill="none" stroke="#FF62BC" stroke-opacity="0.24" stroke-width="1.6"/>
<polyline points="677.0,829.6 758.6,806.3 840.1,824.3 921.6,817.5 1003.2,912.1 1084.7,838.8" fill="none" stroke="#FF62BC" stroke-opacity="0.24" stroke-width="1.6"/>
<polyline points="677.0,851.4 758.6,829.5 840.1,833.2 921.6,842.1 1003.2,991.7 1084.7,953.0" fill="none" stroke="#FF62BC" stroke-opacity="0.24" stroke-width="1.6"/>
<polyline points="677.0,864.0 758.6,832.7 840.1,837.2 921.6,904.6 1003.2,1016.1 1084.7,1026.9" fill="none" stroke="#FF62BC" stroke-opacity="0.24" stroke-width="1.6"/>
<polyline points="677.0,855.5 758.6,827.8 840.1,835.8 921.6,888.8 1003.2,1003.9 1084.7,1011.2" fill="none" stroke="#FF62BC" stroke-opacity="0.24" stroke-width="1.6"/>
<polyline points="677.0,833.3 758.6,809.3 840.1,834.4 921.6,815.6 1003.2,939.5 1084.7,915.1" fill="none" stroke="#FF62BC" stroke-opacity="0.24" stroke-width="1.6"/>
<polyline points="677.0,871.7 758.6,826.2 840.1,840.2 921.6,880.9 1003.2,971.9 1084.7,966.0" fill="none" stroke="#FF62BC" stroke-opacity="0.24" stroke-width="1.6"/>
<polyline points="677.0,867.8 758.6,824.1 840.1,838.0 921.6,857.5 1003.2,959.7 1084.7,979.7" fill="none" stroke="#FF62BC" stroke-opacity="0.24" stroke-width="1.6"/>
<polyline points="677.0,849.7 758.6,803.3 840.1,827.7 921.6,824.7 1003.2,929.7 1084.7,849.9" fill="none" stroke="#FF62BC" stroke-opacity="0.24" stroke-width="1.6"/>
<polyline points="677.0,840.7 758.6,820.5 840.1,822.6 921.6,813.7 1003.2,943.9 1084.7,893.8" fill="none" stroke="#FF62BC" stroke-opacity="0.24" stroke-width="1.6"/>
<polyline points="677.0,844.4 758.6,816.5 840.1,835.1 921.6,849.8 1003.2,935.1 1084.7,995.4" fill="none" stroke="#FF62BC" stroke-opacity="0.24" stroke-width="1.6"/>
<polyline points="677.0,837.0 758.6,818.5 840.1,829.4 921.6,828.6 1003.2,920.9 1084.7,883.1" fill="none" stroke="#FF62BC" stroke-opacity="0.24" stroke-width="1.6"/>
<polyline points="677.0,846.2 758.6,800.4 840.1,826.0 921.6,832.4 1003.2,894.5 1084.7,827.6" fill="none" stroke="#FF62BC" stroke-opacity="0.24" stroke-width="1.6"/>
<polyline points="677.0,847.4 758.6,812.2 840.1,836.5 921.6,836.3 1003.2,953.6 1084.7,861.1" fill="none" stroke="#FF62BC" stroke-opacity="0.24" stroke-width="1.6"/>
<polyline points="677.0,870.5 758.6,869.3 840.1,835.2 921.6,1006.8 1003.2,1052.8 1084.7,1030.8" fill="none" stroke="#FF62BC" stroke-opacity="0.24" stroke-width="1.6"/>
<polyline points="677.0,862.9 758.6,866.0 840.1,837.2 921.6,954.6 1003.2,979.1 1084.7,1042.7" fill="none" stroke="#FF62BC" stroke-opacity="0.24" stroke-width="1.6"/>
<polyline points="677.0,811.2 758.6,817.5 840.1,831.4 921.6,825.1 1003.2,948.8 1084.7,857.9" fill="none" stroke="#FF62BC" stroke-opacity="0.24" stroke-width="1.6"/>
<line x1="677.05" x2="677.05" y1="829.63" y2="845.28" stroke="#FF62BC" stroke-width="1.9"/>
<line x1="677.05" x2="677.05" y1="859.16" y2="875.57" stroke="#FF62BC" stroke-width="1.9"/>
<rect x="646.47" y="845.28" width="61.15" height="13.88" fill="none" stroke="#FF62BC" stroke-width="1.9"/>
<line x1="646.47" x2="707.62" y1="850.33" y2="850.33" stroke="#FF62BC" stroke-width="4.9"/>
<circle cx="677.05" cy="811.20" r="5" fill="#FF62BC" fill-opacity="0.8"/>
<line x1="758.58" x2="758.58" y1="800.35" y2="812.97" stroke="#FF62BC" stroke-width="1.9"/>
<line x1="758.58" x2="758.58" y1="825.84" y2="832.66" stroke="#FF62BC" stroke-width="1.9"/>
<rect x="728.01" y="812.97" width="61.15" height="12.87" fill="none" stroke="#FF62BC" stroke-width="1.9"/>
<line x1="728.01" x2="789.16" y1="821.55" y2="821.55" stroke="#FF62BC" stroke-width="4.9"/>
<circle cx="758.58" cy="865.98" r="5" fill="#FF62BC" fill-opacity="0.8"/>
<circle cx="758.58" cy="869.26" r="5" fill="#FF62BC" fill-opacity="0.8"/>
<line x1="840.11" x2="840.11" y1="822.56" y2="829.38" stroke="#FF62BC" stroke-width="1.9"/>
<line x1="840.11" x2="840.11" y1="837.20" y2="840.23" stroke="#FF62BC" stroke-width="1.9"/>
<rect x="809.54" y="829.38" width="61.15" height="7.82" fill="none" stroke="#FF62BC" stroke-width="1.9"/>
<line x1="809.54" x2="870.69" y1="834.42" y2="834.42" stroke="#FF62BC" stroke-width="4.9"/>
<circle cx="840.11" cy="815.75" r="5" fill="#FF62BC" fill-opacity="0.8"/>
<line x1="921.65" x2="921.65" y1="813.73" y2="821.80" stroke="#FF62BC" stroke-width="1.9"/>
<line x1="921.65" x2="921.65" y1="871.02" y2="904.59" stroke="#FF62BC" stroke-width="1.9"/>
<rect x="891.07" y="821.80" width="61.15" height="49.22" fill="none" stroke="#FF62BC" stroke-width="1.9"/>
<line x1="891.07" x2="952.22" y1="838.21" y2="838.21" stroke="#FF62BC" stroke-width="4.9"/>
<circle cx="921.65" cy="954.57" r="5" fill="#FF62BC" fill-opacity="0.8"/>
<circle cx="921.65" cy="1006.82" r="5" fill="#FF62BC" fill-opacity="0.8"/>
<line x1="1003.18" x2="1003.18" y1="894.50" y2="931.85" stroke="#FF62BC" stroke-width="1.9"/>
<line x1="1003.18" x2="1003.18" y1="976.53" y2="1028.27" stroke="#FF62BC" stroke-width="1.9"/>
<rect x="972.60" y="931.85" width="61.15" height="44.68" fill="none" stroke="#FF62BC" stroke-width="1.9"/>
<line x1="972.60" x2="1033.75" y1="950.53" y2="950.53" stroke="#FF62BC" stroke-width="4.9"/>
<circle cx="1003.18" cy="1052.75" r="5" fill="#FF62BC" fill-opacity="0.8"/>
<line x1="1084.71" x2="1084.71" y1="827.61" y2="875.06" stroke="#FF62BC" stroke-width="1.9"/>
<line x1="1084.71" x2="1084.71" y1="975.77" y2="1042.66" stroke="#FF62BC" stroke-width="1.9"/>
<rect x="1054.14" y="875.06" width="61.15" height="100.71" fill="none" stroke="#FF62BC" stroke-width="1.9"/>
<line x1="1054.14" x2="1115.29" y1="920.49" y2="920.49" stroke="#FF62BC" stroke-width="4.9"/>
<g>
<line x1="1197.18" x2="1197.18" y1="725.40" y2="733.40" stroke="#333333" stroke-width="1.9"/>
<text x="1197.18" y="758.40" text-anchor="middle" font-family='"Liberation Sans", sans-serif' font-size="23" fill="#4D4D4D">GDP per capita</text>
<line x1="1278.71" x2="1278.71" y1="725.40" y2="733.40" stroke="#333333" stroke-width="1.9"/>
<text x="1278.71" y="758.40" text-anchor="middle" font-family='"Liberation Sans", sans-serif' font-size="23" fill="#4D4D4D">Social support</text>
<line x1="1360.24" x2="1360.24" y1="725.40" y2="733.40" stroke="#333333" stroke-width="1.9"/>
<text x="1360.24" y="758.40" text-anchor="middle" font-family='"Liberation Sans", sans-serif' font-size="23" fill="#4D4D4D">Healthy life expectancy</text>
<line x1="1441.78" x2="1441.78" y1="725.40" y2="733.40" stroke="#333333" stroke-width="1.9"/>
<text x="1441.78" y="758.40" text-anchor="middle" font-family='"Liberation Sans", sans-serif' font-size="23" fill="#4D4D4D">Freedom to make life choices</text>
<line x1="1523.31" x2="1523.31" y1="725.40" y2="733.40" stroke="#333333" stroke-width="1.9"/>
<text x="1523.31" y="758.40" text-anchor="middle" font-family='"Liberation Sans", sans-serif' font-size="23" fill="#4D4D4D">Generosity</text>
<line x1="1604.84" x2="1604.84" y1="725.40" y2="733.40" stroke="#333333" stroke-width="1.9"/>
<text x="1604.84" y="758.40" text-anchor="middle" font-family='"Liberation Sans", sans-serif' font-size="23" fill="#4D4D4D">Perceptions of corruption</text>
</g>
<g clip-path="url(#cpx)">
<line x1="1717.32" x2="1717.32" y1="725.40" y2="733.40" stroke="#333333" stroke-width="1.9"/>
<text x="1717.32" y="758.40" text-anchor="middle" font-family='"Liberation Sans", sans-serif' font-size="23" fill="#4D4D4D">GDP per capita</text>
<line x1="1798.85" x2="1798.85" y1="725.40" y2="733.40" stroke="#333333" stroke-width="1.9"/>
<text x="1798.85" y="758.40" text-anchor="middle" font-family='"Liberation Sans", sans-serif' font-size="23" fill="#4D4D4D">Social support</text>
<line x1="1880.38" x2="1880.38" y1="725.40" y2="733.40" stroke="#333333" stroke-width="1.9"/>
<text x="1880.38" y="758.40" text-anchor="middle" font-family='"Liberation Sans", sans-serif' font-size="23" fill="#4D4D4D">Healthy life expectancy</text>
<line x1="1961.92" x2="1961.92" y1="725.40" y2="733.40" stroke="#333333" stroke-width="1.9"/>
<text x="1961.92" y="758.40" text-anchor="middle" font-family='"Liberation Sans", sans-serif' font-size="23" fill="#4D4D4D">Freedom to make life choices</text>
<line x1="2043.45" x2="2043.45" y1="725.40" y2="733.40" stroke="#333333" stroke-width="1.9"/>
<text x="2043.45" y="758.40" text-anchor="middle" font-family='"Liberation Sans", sans-serif' font-size="23" fill="#4D4D4D">Generosity</text>
<line x1="2124.98" x2="2124.98" y1="725.40" y2="733.40" stroke="#333333" stroke-width="1.9"/>
<text x="2124.98" y="758.40" text-anchor="middle" font-family='"Liberation Sans", sans-serif' font-size="23" fill="#4D4D4D">Perceptions of corruption</text>
</g>
<g>
<line x1="156.92" x2="156.92" y1="1065.40" y2="1073.40" stroke="#333333" stroke-width="1.9"/>
<text x="156.92" y="1098.40" text-anchor="middle" font-family='"Liberation Sans", sans-serif' font-size="23" fill="#4D4D4D">GDP per capita</text>
<line x1="238.45" x2="238.45" y1="1065.40" y2="1073.40" stroke="#333333" stroke-width="1.9"/>
<text x="238.45" y="1098.40" text-anchor="middle" font-family='"Liberation Sans", sans-serif' font-size="23" fill="#4D4D4D">Social support</text>
<line x1="319.98" x2="319.98" y1="1065.40" y2="1073.40" stroke="#333333" stroke-width="1.9"/>
<text x="319.98" y="1098.40" text-anchor="middle" font-family='"Liberation Sans", sans-serif' font-size="23" fill="#4D4D4D">Healthy life expectancy</text>
<line x1="401.52" x2="401.52" y1="1065.40" y2="1073.40" stroke="#333333" stroke-width="1.9"/>
<text x="401.52" y="1098.40" text-anchor="middle" font-family='"Liberation Sans", sans-serif' font-size="23" fill="#4D4D4D">Freedom to make life choices</text>
<line x1="483.05" x2="483.05" y1="1065.40" y2="1073.40" stroke="#333333" stroke-width="1.9"/>
<text x="483.05" y="1098.40" text-anchor="middle" font-family='"Liberation Sans", sans-serif' font-size="23" fill="#4D4D4D">Generosity</text>
<line x1="564.58" x2="564.58" y1="1065.40" y2="1073.40" stroke="#333333" stroke-width="1.9"/>
<text x="564.58" y="1098.40" text-anchor="middle" font-family='"Liberation Sans", sans-serif' font-size="23" fill="#4D4D4D">Perceptions of corruption</text>
</g>
<g>
<line x1="677.05" x2="677.05" y1="1065.40" y2="1073.40" stroke="#333333" stroke-width="1.9"/>
<text x="677.05" y="1098.40" text-anchor="middle" font-family='"Liberation Sans", sans-serif' font-size="23" fill="#4D4D4D">GDP per capita</text>
<line x1="758.58" x2="758.58" y1="1065.40" y2="1073.40" stroke="#333333" stroke-width="1.9"/>
<text x="758.58" y="1098.40" text-anchor="middle" font-family='"Liberation Sans", sans-serif' font-size="23" fill="#4D4D4D">Social support</text>
<line x1="840.11" x2="840.11" y1="1065.40" y2="1073.40" stroke="#333333" stroke-width="1.9"/>
<text x="840.11" y="1098.40" text-anchor="middle" font-family='"Liberation Sans", sans-serif' font-size="23" fill="#4D4D4D">Healthy life expectancy</text>
<line x1="921.65" x2="921.65" y1="1065.40" y2="1073.40" stroke="#333333" stroke-width="1.9"/>
<text x="921.65" y="1098.40" text-anchor="middle" font-family='"Liberation Sans", sans-serif' font-size="23" fill="#4D4D4D">Freedom to make life choices</text>
<line x1="1003.18" x2="1003.18" y1="1065.40" y2="1073.40" stroke="#333333" stroke-width="1.9"/>
<text x="1003.18" y="1098.40" text-anchor="middle" font-family='"Liberation Sans", sans-serif' font-size="23" fill="#4D4D4D">Generosity</text>
<line x1="1084.71" x2="1084.71" y1="1065.40" y2="1073.40" stroke="#333333" stroke-width="1.9"/>
<text x="1084.71" y="1098.40" text-anchor="middle" font-family='"Liberation Sans", sans-serif' font-size="23" fill="#4D4D4D">Perceptions of corruption</text>
</g>
<text x="1141" y="1132" text-anchor="middle" font-family='"Liberation Sans", sans-serif' font-size="29.3" fill="#000000">variable</text>
<text transform="translate(37.3,586.5) rotate(-90)" x="0" y="0" text-anchor="middle" font-family='"Liberation Sans", sans-serif' font-size="29.3" fill="#000000">value</text>
<text x="2218" y="361" font-family='"Liberation Sans", sans-serif' font-size="29.3" fill="#000000">Region</text>
<rect x="2218" y="377.6" width="46" height="460.7" fill="#F2F2F2"/>
<line x1="2240.6" x2="2240.6" y1="382.20" y2="389.00" stroke="#F8766D" stroke-width="1.9"/>
<line x1="2240.6" x2="2240.6" y1="411.70" y2="418.90" stroke="#F8766D" stroke-width="1.9"/>
<rect x="2223.1" y="389.00" width="35.0" height="22.7" fill="#FFFFFF" fill-opacity="0.75" stroke="#F8766D" stroke-width="1.9"/>
<line x1="2223.1" x2="2258.1" y1="400.80" y2="400.80" stroke="#F8766D" stroke-width="1.9"/>
<text x="2278.3" y="409.10" font-family='"Liberation Sans", sans-serif' font-size="22.5" fill="#000000">Central and Eastern Europe</text>
<line x1="2240.6" x2="2240.6" y1="428.27" y2="435.07" stroke="#D89000" stroke-width="1.9"/>
<line x1="2240.6" x2="2240.6" y1="457.77" y2="464.97" stroke="#D89000" stroke-width="1.9"/>
<rect x="2223.1" y="435.07" width="35.0" height="22.7" fill="#FFFFFF" fill-opacity="0.75" stroke="#D89000" stroke-width="1.9"/>
<line x1="2223.1" x2="2258.1" y1="446.87" y2="446.87" stroke="#D89000" stroke-width="1.9"/>
<text x="2278.3" y="455.17" font-family='"Liberation Sans", sans-serif' font-size="22.5" fill="#000000">Commonwealth of Independent States</text>
<line x1="2240.6" x2="2240.6" y1="474.34" y2="481.14" stroke="#A3A500" stroke-width="1.9"/>
<line x1="2240.6" x2="2240.6" y1="503.84" y2="511.04" stroke="#A3A500" stroke-width="1.9"/>
<rect x="2223.1" y="481.14" width="35.0" height="22.7" fill="#FFFFFF" fill-opacity="0.75" stroke="#A3A500" stroke-width="1.9"/>
<line x1="2223.1" x2="2258.1" y1="492.94" y2="492.94" stroke="#A3A500" stroke-width="1.9"/>
<text x="2278.3" y="501.24" font-family='"Liberation Sans", sans-serif' font-size="22.5" fill="#000000">East Asia</text>
<line x1="2240.6" x2="2240.6" y1="520.41" y2="527.21" stroke="#39B600" stroke-width="1.9"/>
<line x1="2240.6" x2="2240.6" y1="549.91" y2="557.11" stroke="#39B600" stroke-width="1.9"/>
<rect x="2223.1" y="527.21" width="35.0" height="22.7" fill="#FFFFFF" fill-opacity="0.75" stroke="#39B600" stroke-width="1.9"/>
<line x1="2223.1" x2="2258.1" y1="539.01" y2="539.01" stroke="#39B600" stroke-width="1.9"/>
<text x="2278.3" y="547.31" font-family='"Liberation Sans", sans-serif' font-size="22.5" fill="#000000">Latin America and Caribbean</text>
<line x1="2240.6" x2="2240.6" y1="566.48" y2="573.28" stroke="#00BF7D" stroke-width="1.9"/>
<line x1="2240.6" x2="2240.6" y1="595.98" y2="603.18" stroke="#00BF7D" stroke-width="1.9"/>
<rect x="2223.1" y="573.28" width="35.0" height="22.7" fill="#FFFFFF" fill-opacity="0.75" stroke="#00BF7D" stroke-width="1.9"/>
<line x1="2223.1" x2="2258.1" y1="585.08" y2="585.08" stroke="#00BF7D" stroke-width="1.9"/>
<text x="2278.3" y="593.38" font-family='"Liberation Sans", sans-serif' font-size="22.5" fill="#000000">Middle East and North Africa</text>
<line x1="2240.6" x2="2240.6" y1="612.55" y2="619.35" stroke="#00BFC4" stroke-width="1.9"/>
<line x1="2240.6" x2="2240.6" y1="642.05" y2="649.25" stroke="#00BFC4" stroke-width="1.9"/>
<rect x="2223.1" y="619.35" width="35.0" height="22.7" fill="#FFFFFF" fill-opacity="0.75" stroke="#00BFC4" stroke-width="1.9"/>
<line x1="2223.1" x2="2258.1" y1="631.15" y2="631.15" stroke="#00BFC4" stroke-width="1.9"/>
<text x="2278.3" y="639.45" font-family='"Liberation Sans", sans-serif' font-size="22.5" fill="#000000">North America and ANZ</text>
<line x1="2240.6" x2="2240.6" y1="658.62" y2="665.42" stroke="#00B0F6" stroke-width="1.9"/>
<line x1="2240.6" x2="2240.6" y1="688.12" y2="695.32" stroke="#00B0F6" stroke-width="1.9"/>
<rect x="2223.1" y="665.42" width="35.0" height="22.7" fill="#FFFFFF" fill-opacity="0.75" stroke="#00B0F6" stroke-width="1.9"/>
<line x1="2223.1" x2="2258.1" y1="677.22" y2="677.22" stroke="#00B0F6" stroke-width="1.9"/>
<text x="2278.3" y="685.52" font-family='"Liberation Sans", sans-serif' font-size="22.5" fill="#000000">South Asia</text>
<line x1="2240.6" x2="2240.6" y1="704.69" y2="711.49" stroke="#9590FF" stroke-width="1.9"/>
<line x1="2240.6" x2="2240.6" y1="734.19" y2="741.39" stroke="#9590FF" stroke-width="1.9"/>
<rect x="2223.1" y="711.49" width="35.0" height="22.7" fill="#FFFFFF" fill-opacity="0.75" stroke="#9590FF" stroke-width="1.9"/>
<line x1="2223.1" x2="2258.1" y1="723.29" y2="723.29" stroke="#9590FF" stroke-width="1.9"/>
<text x="2278.3" y="731.59" font-family='"Liberation Sans", sans-serif' font-size="22.5" fill="#000000">Southeast Asia</text>
<line x1="2240.6" x2="2240.6" y1="750.76" y2="757.56" stroke="#E76BF3" stroke-width="1.9"/>
<line x1="2240.6" x2="2240.6" y1="780.26" y2="787.46" stroke="#E76BF3" stroke-width="1.9"/>
<rect x="2223.1" y="757.56" width="35.0" height="22.7" fill="#FFFFFF" fill-opacity="0.75" stroke="#E76BF3" stroke-width="1.9"/>
<line x1="2223.1" x2="2258.1" y1="769.36" y2="769.36" stroke="#E76BF3" stroke-width="1.9"/>
<text x="2278.3" y="777.66" font-family='"Liberation Sans", sans-serif' font-size="22.5" fill="#000000">Sub-Saharan Africa</text>
<line x1="2240.6" x2="2240.6" y1="796.83" y2="803.63" stroke="#FF62BC" stroke-width="1.9"/>
<line x1="2240.6" x2="2240.6" y1="826.33" y2="833.53" stroke="#FF62BC" stroke-width="1.9"/>
<rect x="2223.1" y="803.63" width="35.0" height="22.7" fill="#FFFFFF" fill-opacity="0.75" stroke="#FF62BC" stroke-width="1.9"/>
<line x1="2223.1" x2="2258.1" y1="815.43" y2="815.43" stroke="#FF62BC" stroke-width="1.9"/>
<text x="2278.3" y="823.73" font-family='"Liberation Sans", sans-serif' font-size="22.5" fill="#000000">Western Europe</text>
</svg></body></html>
